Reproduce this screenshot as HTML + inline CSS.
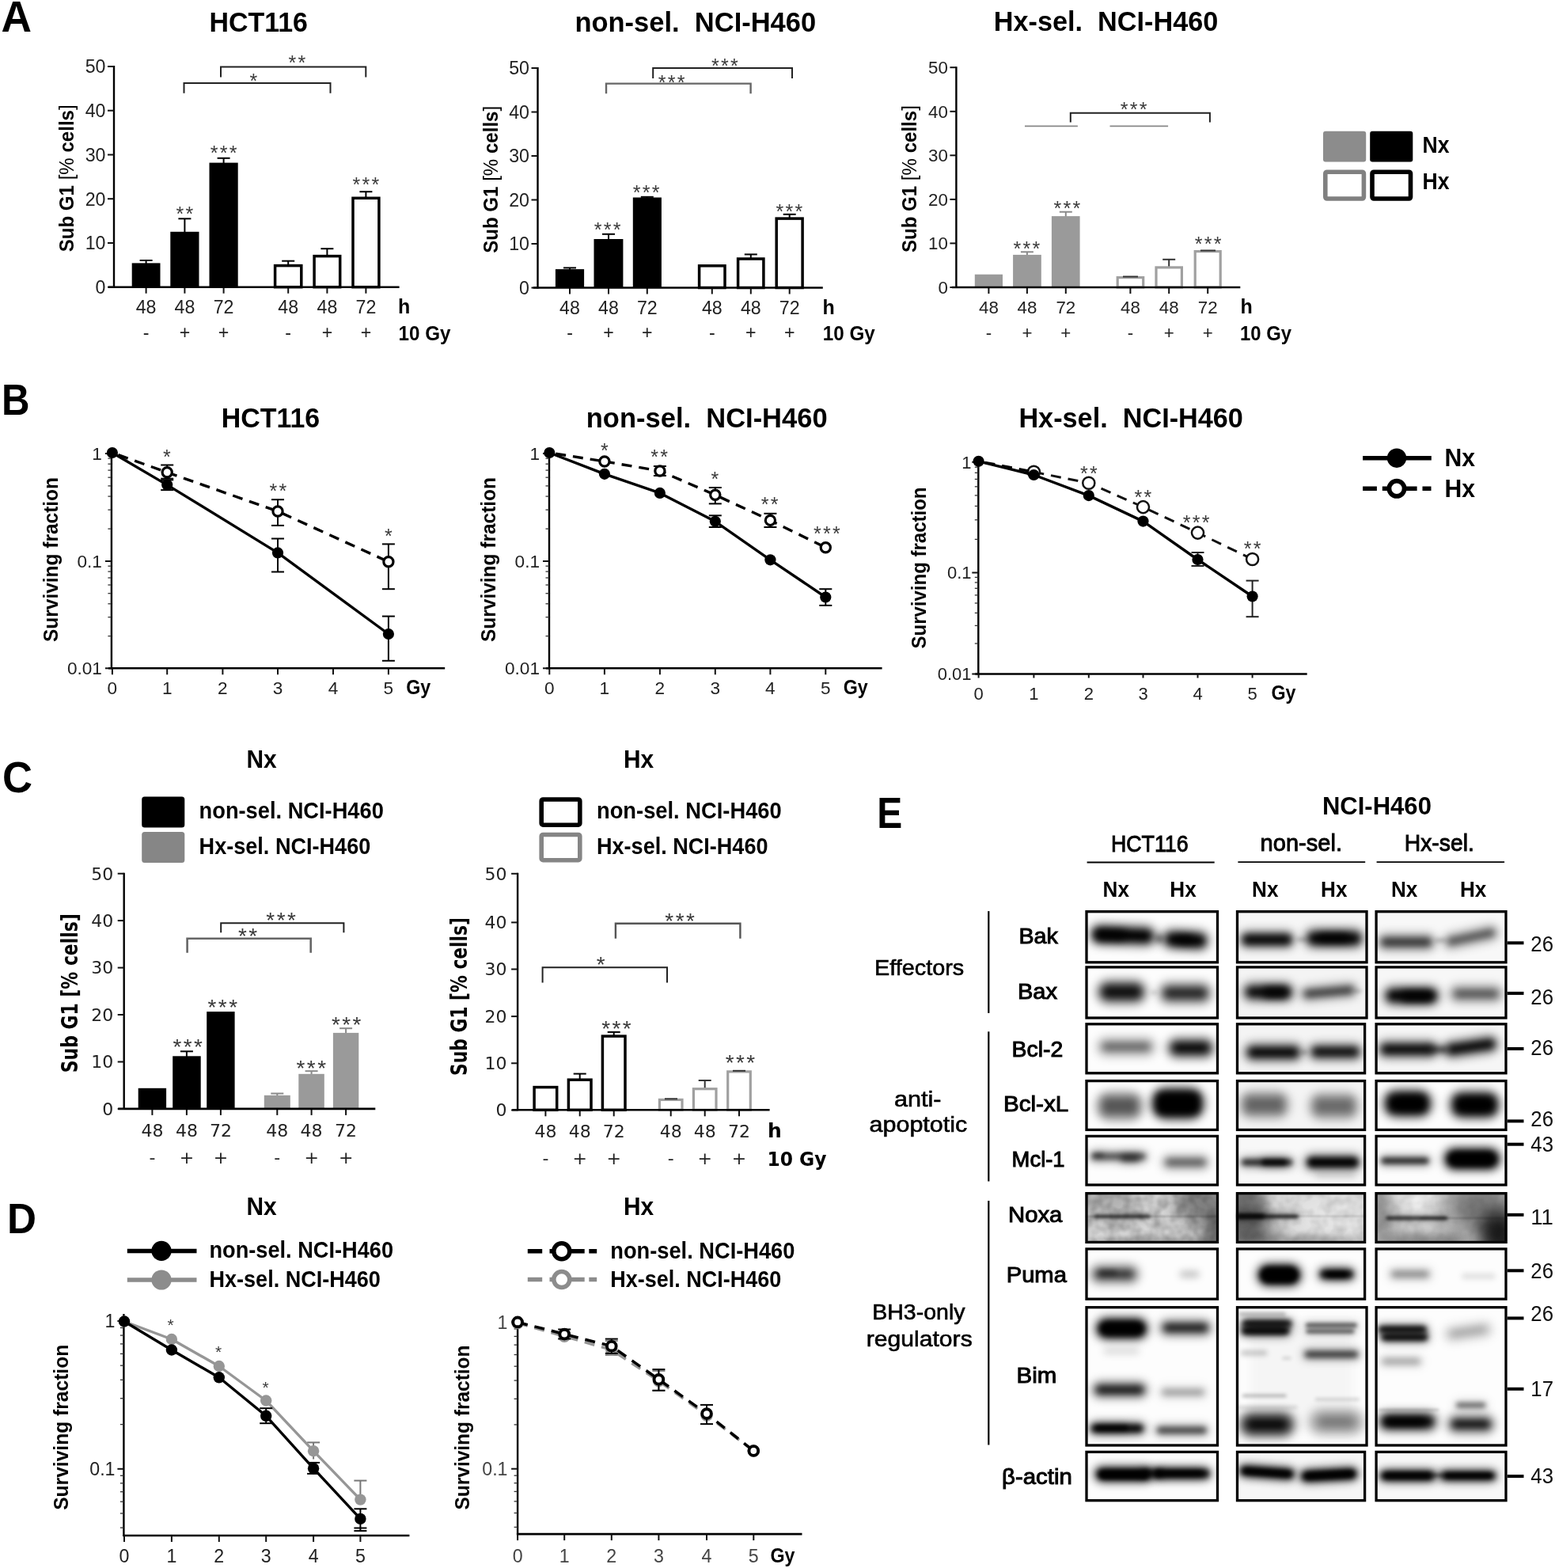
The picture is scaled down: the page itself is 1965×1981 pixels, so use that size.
<!DOCTYPE html>
<html lang="en">
<head>
<meta charset="utf-8">
<title>Figure</title>
<style>
html,body{margin:0;padding:0;background:#fff;}
body{width:1965px;height:1981px;overflow:hidden;}
svg{display:block;}
svg text{font-family:"Liberation Sans", Arial, Helvetica, sans-serif;white-space:pre;}
svg text.dj{font-family:"DejaVu Sans", "Liberation Sans", sans-serif;}
</style>
</head>
<body>
<svg width="1965" height="1981" viewBox="0 0 1965 1981">
<defs>
<filter id="f10" x="-150%" y="-400%" width="400%" height="900%"><feGaussianBlur stdDeviation="1.0"/></filter>
<filter id="f15" x="-150%" y="-400%" width="400%" height="900%"><feGaussianBlur stdDeviation="1.5"/></filter>
<filter id="f20" x="-150%" y="-400%" width="400%" height="900%"><feGaussianBlur stdDeviation="2.0"/></filter>
<filter id="f25" x="-150%" y="-400%" width="400%" height="900%"><feGaussianBlur stdDeviation="2.5"/></filter>
<filter id="f30" x="-150%" y="-400%" width="400%" height="900%"><feGaussianBlur stdDeviation="3.0"/></filter>
<filter id="f35" x="-150%" y="-400%" width="400%" height="900%"><feGaussianBlur stdDeviation="3.5"/></filter>
<filter id="f40" x="-150%" y="-400%" width="400%" height="900%"><feGaussianBlur stdDeviation="4.0"/></filter>
<filter id="f45" x="-150%" y="-400%" width="400%" height="900%"><feGaussianBlur stdDeviation="4.5"/></filter>
<filter id="f50" x="-150%" y="-400%" width="400%" height="900%"><feGaussianBlur stdDeviation="5.0"/></filter>
<filter id="f55" x="-150%" y="-400%" width="400%" height="900%"><feGaussianBlur stdDeviation="5.5"/></filter>
<filter id="f60" x="-150%" y="-400%" width="400%" height="900%"><feGaussianBlur stdDeviation="6.0"/></filter>
<filter id="f65" x="-150%" y="-400%" width="400%" height="900%"><feGaussianBlur stdDeviation="6.5"/></filter>
<filter id="f70" x="-150%" y="-400%" width="400%" height="900%"><feGaussianBlur stdDeviation="7.0"/></filter>
<filter id="f80" x="-150%" y="-400%" width="400%" height="900%"><feGaussianBlur stdDeviation="8.0"/></filter>
<filter id="f100" x="-150%" y="-400%" width="400%" height="900%"><feGaussianBlur stdDeviation="10.0"/></filter>
<filter id="f120" x="-150%" y="-400%" width="400%" height="900%"><feGaussianBlur stdDeviation="12.0"/></filter>
<filter id="nz3" x="0" y="0" width="100%" height="100%">
  <feTurbulence type="fractalNoise" baseFrequency="0.07" numOctaves="2" seed="3" result="t"/>
  <feColorMatrix in="t" type="matrix" values="0 0 0 0 0  0 0 0 0 0  0 0 0 0 0  1.8 0 0 0 -0.6"/>
</filter>
<filter id="nz5" x="0" y="0" width="100%" height="100%">
  <feTurbulence type="fractalNoise" baseFrequency="0.07" numOctaves="2" seed="5" result="t"/>
  <feColorMatrix in="t" type="matrix" values="0 0 0 0 0  0 0 0 0 0  0 0 0 0 0  1.8 0 0 0 -0.6"/>
</filter>
<filter id="nz9" x="0" y="0" width="100%" height="100%">
  <feTurbulence type="fractalNoise" baseFrequency="0.07" numOctaves="2" seed="9" result="t"/>
  <feColorMatrix in="t" type="matrix" values="0 0 0 0 0  0 0 0 0 0  0 0 0 0 0  1.8 0 0 0 -0.6"/>
</filter>
</defs>
<rect width="1965" height="1981" fill="#fff"/>
<text x="1.5" y="40.3" font-size="56" font-weight="bold" textLength="38.5" lengthAdjust="spacingAndGlyphs">A</text>
<text x="264.5" y="39.6" font-size="35" font-weight="bold" textLength="124.5" lengthAdjust="spacingAndGlyphs">HCT116</text>
<text x="726.4" y="39.6" font-size="35" font-weight="bold" textLength="304.8" lengthAdjust="spacingAndGlyphs">non-sel.  NCI-H460</text>
<text x="1255.8" y="39.4" font-size="35" font-weight="bold" textLength="283.5" lengthAdjust="spacingAndGlyphs">Hx-sel.  NCI-H460</text>
<line x1="184.6" y1="329.0" x2="184.6" y2="334.4" stroke="#000" stroke-width="2"/>
<line x1="176.6" y1="329.0" x2="192.6" y2="329.0" stroke="#000" stroke-width="2"/>
<rect x="166.7" y="332.4" width="35.8" height="30.3" fill="#000"/>
<line x1="184.6" y1="362.7" x2="184.6" y2="370.7" stroke="#111" stroke-width="2"/>
<text x="184.6" y="395.5" font-size="23.2" text-anchor="middle" fill="#222">48</text>
<text x="184.6" y="427.5" font-size="23.2" text-anchor="middle" fill="#222">-</text>
<line x1="233.4" y1="276.3" x2="233.4" y2="294.8" stroke="#000" stroke-width="2"/>
<line x1="225.4" y1="276.3" x2="241.4" y2="276.3" stroke="#000" stroke-width="2"/>
<rect x="215.3" y="292.8" width="36.2" height="69.9" fill="#000"/>
<line x1="233.4" y1="362.7" x2="233.4" y2="370.7" stroke="#111" stroke-width="2"/>
<text x="233.4" y="395.5" font-size="23.2" text-anchor="middle" fill="#222">48</text>
<text x="233.4" y="427.5" font-size="23.2" text-anchor="middle" fill="#222">+</text>
<line x1="282.6" y1="199.8" x2="282.6" y2="207.6" stroke="#000" stroke-width="2"/>
<line x1="274.6" y1="199.8" x2="290.6" y2="199.8" stroke="#000" stroke-width="2"/>
<rect x="264.5" y="205.6" width="36.2" height="157.1" fill="#000"/>
<line x1="282.6" y1="362.7" x2="282.6" y2="370.7" stroke="#111" stroke-width="2"/>
<text x="282.6" y="395.5" font-size="23.2" text-anchor="middle" fill="#222">72</text>
<text x="282.6" y="427.5" font-size="23.2" text-anchor="middle" fill="#222">+</text>
<line x1="364.2" y1="329.7" x2="364.2" y2="336.0" stroke="#000" stroke-width="2"/>
<line x1="356.2" y1="329.7" x2="372.2" y2="329.7" stroke="#000" stroke-width="2"/>
<rect x="347.6" y="335.6" width="33.2" height="27.1" fill="#fff" stroke="#000" stroke-width="3.5"/>
<line x1="364.2" y1="362.7" x2="364.2" y2="370.7" stroke="#111" stroke-width="2"/>
<text x="364.2" y="395.5" font-size="23.2" text-anchor="middle" fill="#222">48</text>
<text x="364.2" y="427.5" font-size="23.2" text-anchor="middle" fill="#222">-</text>
<line x1="413.4" y1="314.2" x2="413.4" y2="324.0" stroke="#000" stroke-width="2"/>
<line x1="405.4" y1="314.2" x2="421.4" y2="314.2" stroke="#000" stroke-width="2"/>
<rect x="397.1" y="323.6" width="32.6" height="39.1" fill="#fff" stroke="#000" stroke-width="3.5"/>
<line x1="413.4" y1="362.7" x2="413.4" y2="370.7" stroke="#111" stroke-width="2"/>
<text x="413.4" y="395.5" font-size="23.2" text-anchor="middle" fill="#222">48</text>
<text x="413.4" y="427.5" font-size="23.2" text-anchor="middle" fill="#222">+</text>
<line x1="462.4" y1="242.2" x2="462.4" y2="250.7" stroke="#000" stroke-width="2"/>
<line x1="454.4" y1="242.2" x2="470.4" y2="242.2" stroke="#000" stroke-width="2"/>
<rect x="446.0" y="250.3" width="32.9" height="112.4" fill="#fff" stroke="#000" stroke-width="3.5"/>
<line x1="462.4" y1="362.7" x2="462.4" y2="370.7" stroke="#111" stroke-width="2"/>
<text x="462.4" y="395.5" font-size="23.2" text-anchor="middle" fill="#222">72</text>
<text x="462.4" y="427.5" font-size="23.2" text-anchor="middle" fill="#222">+</text>
<line x1="144.0" y1="83.0" x2="144.0" y2="363.7" stroke="#000" stroke-width="2.4"/>
<line x1="137.0" y1="362.7" x2="504.6" y2="362.7" stroke="#000" stroke-width="2.6"/>
<line x1="136.0" y1="362.7" x2="144.0" y2="362.7" stroke="#111" stroke-width="2"/>
<text x="133.5" y="370.9" font-size="23.2" text-anchor="end" fill="#222">0</text>
<line x1="136.0" y1="307.0" x2="144.0" y2="307.0" stroke="#111" stroke-width="2"/>
<text x="133.5" y="315.2" font-size="23.2" text-anchor="end" fill="#222">10</text>
<line x1="136.0" y1="251.2" x2="144.0" y2="251.2" stroke="#111" stroke-width="2"/>
<text x="133.5" y="259.5" font-size="23.2" text-anchor="end" fill="#222">20</text>
<line x1="136.0" y1="195.5" x2="144.0" y2="195.5" stroke="#111" stroke-width="2"/>
<text x="133.5" y="203.7" font-size="23.2" text-anchor="end" fill="#222">30</text>
<line x1="136.0" y1="139.7" x2="144.0" y2="139.7" stroke="#111" stroke-width="2"/>
<text x="133.5" y="148.0" font-size="23.2" text-anchor="end" fill="#222">40</text>
<line x1="136.0" y1="84.0" x2="144.0" y2="84.0" stroke="#111" stroke-width="2"/>
<text x="133.5" y="92.2" font-size="23.2" text-anchor="end" fill="#222">50</text>
<text x="93.0" y="225.3" font-size="25" font-weight="bold" text-anchor="middle" textLength="186" lengthAdjust="spacingAndGlyphs" transform="rotate(-90 93.0 225.3)">Sub G1 <tspan font-weight="normal">[%</tspan> cells<tspan font-weight="normal">]</tspan></text>
<text x="503.0" y="395.5" font-size="25" font-weight="bold">h</text>
<text x="503.6" y="429.5" font-size="25" font-weight="bold" textLength="66.0" lengthAdjust="spacingAndGlyphs">10 Gy</text>
<path d="M279.0 97.5V84.4H462.3V97.5" stroke="#222" stroke-width="2" fill="none"/>
<text x="376.6" y="88.4" font-size="25" text-anchor="middle" fill="#3a3a3a" letter-spacing="2.28">**</text>
<path d="M232.5 117.8V105.0H417.5V117.8" stroke="#222" stroke-width="2" fill="none"/>
<text x="321.5" y="110.9" font-size="25" text-anchor="middle" fill="#3a3a3a" letter-spacing="2.28">*</text>
<text x="234.5" y="278.9" font-size="25" text-anchor="middle" fill="#3a3a3a" letter-spacing="2.28">**</text>
<text x="283.7" y="202.1" font-size="25" text-anchor="middle" fill="#3a3a3a" letter-spacing="2.28">***</text>
<text x="463.6" y="241.8" font-size="25" text-anchor="middle" fill="#3a3a3a" letter-spacing="2.28">***</text>
<line x1="720.0" y1="338.4" x2="720.0" y2="342.1" stroke="#000" stroke-width="2"/>
<line x1="712.0" y1="338.4" x2="728.0" y2="338.4" stroke="#000" stroke-width="2"/>
<rect x="701.9" y="340.1" width="36.2" height="23.4" fill="#000"/>
<line x1="720.0" y1="363.5" x2="720.0" y2="371.5" stroke="#111" stroke-width="2"/>
<text x="720.0" y="396.5" font-size="23.2" text-anchor="middle" fill="#222">48</text>
<text x="720.0" y="427.5" font-size="23.2" text-anchor="middle" fill="#222">-</text>
<line x1="769.0" y1="295.8" x2="769.0" y2="304.0" stroke="#000" stroke-width="2"/>
<line x1="761.0" y1="295.8" x2="777.0" y2="295.8" stroke="#000" stroke-width="2"/>
<rect x="750.5" y="302.0" width="36.9" height="61.5" fill="#000"/>
<line x1="769.0" y1="363.5" x2="769.0" y2="371.5" stroke="#111" stroke-width="2"/>
<text x="769.0" y="396.5" font-size="23.2" text-anchor="middle" fill="#222">48</text>
<text x="769.0" y="427.5" font-size="23.2" text-anchor="middle" fill="#222">+</text>
<line x1="817.8" y1="248.8" x2="817.8" y2="251.5" stroke="#000" stroke-width="2"/>
<line x1="809.8" y1="248.8" x2="825.8" y2="248.8" stroke="#000" stroke-width="2"/>
<rect x="799.8" y="249.5" width="36.1" height="114.0" fill="#000"/>
<line x1="817.8" y1="363.5" x2="817.8" y2="371.5" stroke="#111" stroke-width="2"/>
<text x="817.8" y="396.5" font-size="23.2" text-anchor="middle" fill="#222">72</text>
<text x="817.8" y="427.5" font-size="23.2" text-anchor="middle" fill="#222">+</text>
<rect x="883.6" y="335.8" width="32.4" height="27.7" fill="#fff" stroke="#000" stroke-width="3.5"/>
<line x1="899.8" y1="363.5" x2="899.8" y2="371.5" stroke="#111" stroke-width="2"/>
<text x="899.8" y="396.5" font-size="23.2" text-anchor="middle" fill="#222">48</text>
<text x="899.8" y="427.5" font-size="23.2" text-anchor="middle" fill="#222">-</text>
<line x1="948.8" y1="321.4" x2="948.8" y2="327.4" stroke="#000" stroke-width="2"/>
<line x1="940.8" y1="321.4" x2="956.8" y2="321.4" stroke="#000" stroke-width="2"/>
<rect x="932.6" y="327.0" width="32.3" height="36.5" fill="#fff" stroke="#000" stroke-width="3.5"/>
<line x1="948.8" y1="363.5" x2="948.8" y2="371.5" stroke="#111" stroke-width="2"/>
<text x="948.8" y="396.5" font-size="23.2" text-anchor="middle" fill="#222">48</text>
<text x="948.8" y="427.5" font-size="23.2" text-anchor="middle" fill="#222">+</text>
<line x1="997.7" y1="270.8" x2="997.7" y2="276.5" stroke="#000" stroke-width="2"/>
<line x1="989.7" y1="270.8" x2="1005.7" y2="270.8" stroke="#000" stroke-width="2"/>
<rect x="981.2" y="276.1" width="32.9" height="87.4" fill="#fff" stroke="#000" stroke-width="3.5"/>
<line x1="997.7" y1="363.5" x2="997.7" y2="371.5" stroke="#111" stroke-width="2"/>
<text x="997.7" y="396.5" font-size="23.2" text-anchor="middle" fill="#222">72</text>
<text x="997.7" y="427.5" font-size="23.2" text-anchor="middle" fill="#222">+</text>
<line x1="679.5" y1="85.0" x2="679.5" y2="364.5" stroke="#000" stroke-width="2.4"/>
<line x1="673.7" y1="363.5" x2="1039.8" y2="363.5" stroke="#000" stroke-width="2.6"/>
<line x1="671.5" y1="363.5" x2="679.5" y2="363.5" stroke="#111" stroke-width="2"/>
<text x="669.0" y="371.7" font-size="23.2" text-anchor="end" fill="#222">0</text>
<line x1="671.5" y1="308.0" x2="679.5" y2="308.0" stroke="#111" stroke-width="2"/>
<text x="669.0" y="316.2" font-size="23.2" text-anchor="end" fill="#222">10</text>
<line x1="671.5" y1="252.5" x2="679.5" y2="252.5" stroke="#111" stroke-width="2"/>
<text x="669.0" y="260.7" font-size="23.2" text-anchor="end" fill="#222">20</text>
<line x1="671.5" y1="197.0" x2="679.5" y2="197.0" stroke="#111" stroke-width="2"/>
<text x="669.0" y="205.2" font-size="23.2" text-anchor="end" fill="#222">30</text>
<line x1="671.5" y1="141.5" x2="679.5" y2="141.5" stroke="#111" stroke-width="2"/>
<text x="669.0" y="149.7" font-size="23.2" text-anchor="end" fill="#222">40</text>
<line x1="671.5" y1="86.0" x2="679.5" y2="86.0" stroke="#111" stroke-width="2"/>
<text x="669.0" y="94.2" font-size="23.2" text-anchor="end" fill="#222">50</text>
<text x="629.0" y="226.8" font-size="25" font-weight="bold" text-anchor="middle" textLength="186" lengthAdjust="spacingAndGlyphs" transform="rotate(-90 629.0 226.8)">Sub G1 <tspan font-weight="normal">[%</tspan> cells<tspan font-weight="normal">]</tspan></text>
<text x="1039.5" y="396.5" font-size="25" font-weight="bold">h</text>
<text x="1039.8" y="429.5" font-size="25" font-weight="bold" textLength="66.0" lengthAdjust="spacingAndGlyphs">10 Gy</text>
<path d="M825.2 99.0V86.0H1001.0V99.0" stroke="#222" stroke-width="2" fill="none"/>
<text x="916.9" y="91.9" font-size="25" text-anchor="middle" fill="#3a3a3a" letter-spacing="2.28">***</text>
<path d="M766.0 118.2V105.6H948.6V118.2" stroke="#666" stroke-width="2.4" fill="none"/>
<text x="849.8" y="113.0" font-size="25" text-anchor="middle" fill="#3a3a3a" letter-spacing="2.28">***</text>
<text x="768.8" y="299.0" font-size="25" text-anchor="middle" fill="#3a3a3a" letter-spacing="2.28">***</text>
<text x="817.7" y="252.0" font-size="25" text-anchor="middle" fill="#3a3a3a" letter-spacing="2.28">***</text>
<text x="998.6" y="275.8" font-size="25" text-anchor="middle" fill="#3a3a3a" letter-spacing="2.28">***</text>
<rect x="1231.8" y="346.7" width="35.2" height="16.3" fill="#9a9a9a"/>
<line x1="1249.4" y1="363.0" x2="1249.4" y2="371.0" stroke="#111" stroke-width="2"/>
<text x="1249.4" y="396.0" font-size="22.3" text-anchor="middle" fill="#222">48</text>
<text x="1249.4" y="427.5" font-size="22.3" text-anchor="middle" fill="#222">-</text>
<line x1="1297.9" y1="318.3" x2="1297.9" y2="323.9" stroke="#8a8a8a" stroke-width="2"/>
<line x1="1289.9" y1="318.3" x2="1305.9" y2="318.3" stroke="#8a8a8a" stroke-width="2"/>
<rect x="1280.1" y="321.9" width="35.7" height="41.1" fill="#9a9a9a"/>
<line x1="1297.9" y1="363.0" x2="1297.9" y2="371.0" stroke="#111" stroke-width="2"/>
<text x="1297.9" y="396.0" font-size="22.3" text-anchor="middle" fill="#222">48</text>
<text x="1297.9" y="427.5" font-size="22.3" text-anchor="middle" fill="#222">+</text>
<line x1="1346.8" y1="267.7" x2="1346.8" y2="275.1" stroke="#8a8a8a" stroke-width="2"/>
<line x1="1338.8" y1="267.7" x2="1354.8" y2="267.7" stroke="#8a8a8a" stroke-width="2"/>
<rect x="1328.9" y="273.1" width="35.7" height="89.9" fill="#9a9a9a"/>
<line x1="1346.8" y1="363.0" x2="1346.8" y2="371.0" stroke="#111" stroke-width="2"/>
<text x="1346.8" y="396.0" font-size="22.3" text-anchor="middle" fill="#222">72</text>
<text x="1346.8" y="427.5" font-size="22.3" text-anchor="middle" fill="#222">+</text>
<rect x="1412.2" y="350.6" width="32.5" height="12.4" fill="#fff" stroke="#a0a0a0" stroke-width="3.2"/>
<line x1="1428.4" y1="363.0" x2="1428.4" y2="371.0" stroke="#111" stroke-width="2"/>
<text x="1428.4" y="396.0" font-size="22.3" text-anchor="middle" fill="#222">48</text>
<text x="1428.4" y="427.5" font-size="22.3" text-anchor="middle" fill="#222">-</text>
<line x1="1477.2" y1="327.8" x2="1477.2" y2="338.3" stroke="#333" stroke-width="2"/>
<line x1="1469.2" y1="327.8" x2="1485.2" y2="327.8" stroke="#333" stroke-width="2"/>
<rect x="1461.0" y="337.9" width="32.4" height="25.1" fill="#fff" stroke="#a0a0a0" stroke-width="3.2"/>
<line x1="1477.2" y1="363.0" x2="1477.2" y2="371.0" stroke="#111" stroke-width="2"/>
<text x="1477.2" y="396.0" font-size="22.3" text-anchor="middle" fill="#222">48</text>
<text x="1477.2" y="427.5" font-size="22.3" text-anchor="middle" fill="#222">+</text>
<rect x="1510.2" y="317.6" width="32.0" height="45.4" fill="#fff" stroke="#a0a0a0" stroke-width="3.2"/>
<line x1="1526.2" y1="363.0" x2="1526.2" y2="371.0" stroke="#111" stroke-width="2"/>
<text x="1526.2" y="396.0" font-size="22.3" text-anchor="middle" fill="#222">72</text>
<text x="1526.2" y="427.5" font-size="22.3" text-anchor="middle" fill="#222">+</text>
<line x1="1208.4" y1="84.2" x2="1208.4" y2="364.0" stroke="#000" stroke-width="2.4"/>
<line x1="1203.0" y1="363.0" x2="1567.3" y2="363.0" stroke="#000" stroke-width="2.6"/>
<line x1="1200.4" y1="363.0" x2="1208.4" y2="363.0" stroke="#111" stroke-width="2"/>
<text x="1197.9" y="370.9" font-size="22.3" text-anchor="end" fill="#222">0</text>
<line x1="1200.4" y1="307.4" x2="1208.4" y2="307.4" stroke="#111" stroke-width="2"/>
<text x="1197.9" y="315.4" font-size="22.3" text-anchor="end" fill="#222">10</text>
<line x1="1200.4" y1="251.9" x2="1208.4" y2="251.9" stroke="#111" stroke-width="2"/>
<text x="1197.9" y="259.8" font-size="22.3" text-anchor="end" fill="#222">20</text>
<line x1="1200.4" y1="196.3" x2="1208.4" y2="196.3" stroke="#111" stroke-width="2"/>
<text x="1197.9" y="204.2" font-size="22.3" text-anchor="end" fill="#222">30</text>
<line x1="1200.4" y1="140.8" x2="1208.4" y2="140.8" stroke="#111" stroke-width="2"/>
<text x="1197.9" y="148.7" font-size="22.3" text-anchor="end" fill="#222">40</text>
<line x1="1200.4" y1="85.2" x2="1208.4" y2="85.2" stroke="#111" stroke-width="2"/>
<text x="1197.9" y="93.1" font-size="22.3" text-anchor="end" fill="#222">50</text>
<text x="1158.0" y="226.1" font-size="25" font-weight="bold" text-anchor="middle" textLength="186" lengthAdjust="spacingAndGlyphs" transform="rotate(-90 1158.0 226.1)">Sub G1 <tspan font-weight="normal">[%</tspan> cells<tspan font-weight="normal">]</tspan></text>
<text x="1567.5" y="396.0" font-size="25" font-weight="bold">h</text>
<text x="1567.0" y="429.5" font-size="25" font-weight="bold" textLength="65.0" lengthAdjust="spacingAndGlyphs">10 Gy</text>
<path d="M1352.8 154.4V142.7H1528.9V154.4" stroke="#222" stroke-width="2" fill="none"/>
<text x="1433.8" y="146.7" font-size="25" text-anchor="middle" fill="#3a3a3a" letter-spacing="2.28">***</text>
<line x1="1295.0" y1="159.4" x2="1361.9" y2="159.4" stroke="#888" stroke-width="1.6"/>
<line x1="1402.5" y1="159.4" x2="1476.1" y2="159.4" stroke="#888" stroke-width="1.6"/>
<text x="1298.4" y="322.8" font-size="25" text-anchor="middle" fill="#3a3a3a" letter-spacing="2.28">***</text>
<text x="1349.4" y="271.7" font-size="25" text-anchor="middle" fill="#3a3a3a" letter-spacing="2.28">***</text>
<text x="1527.7" y="316.9" font-size="25" text-anchor="middle" fill="#3a3a3a" letter-spacing="2.28">***</text>
<line x1="1419.0" y1="349.5" x2="1438.0" y2="349.5" stroke="#333" stroke-width="2"/>
<line x1="1517.0" y1="316.5" x2="1536.0" y2="316.5" stroke="#333" stroke-width="2"/>
<rect x="1672.0" y="165.7" width="54.2" height="38.8" fill="#8c8c8c" rx="3"/>
<rect x="1731.2" y="165.7" width="54.1" height="38.8" fill="#000" rx="3"/>
<text x="1797.5" y="193.2" font-size="30" font-weight="bold" textLength="34.0" lengthAdjust="spacingAndGlyphs">Nx</text>
<rect x="1674.8" y="217.2" width="48.6" height="33.8" fill="#fff" stroke="#808080" stroke-width="5.6" rx="2"/>
<rect x="1734.0" y="217.2" width="48.5" height="33.8" fill="#fff" stroke="#000" stroke-width="5.6" rx="2"/>
<text x="1797.5" y="239.3" font-size="30" font-weight="bold" textLength="34.0" lengthAdjust="spacingAndGlyphs">Hx</text>
<text x="2.0" y="523.7" font-size="56" font-weight="bold" textLength="35.5" lengthAdjust="spacingAndGlyphs">B</text>
<text x="279.7" y="539.5" font-size="35" font-weight="bold" textLength="124.5" lengthAdjust="spacingAndGlyphs">HCT116</text>
<text x="740.8" y="539.5" font-size="35" font-weight="bold" textLength="304.8" lengthAdjust="spacingAndGlyphs">non-sel.  NCI-H460</text>
<text x="1287.4" y="540.0" font-size="35" font-weight="bold" textLength="283.5" lengthAdjust="spacingAndGlyphs">Hx-sel.  NCI-H460</text>
<line x1="140.9" y1="571.0" x2="140.9" y2="845.3" stroke="#000" stroke-width="2.4"/>
<line x1="136.9" y1="844.3" x2="562.2" y2="844.3" stroke="#000" stroke-width="2.6"/>
<line x1="136.4" y1="579.2" x2="140.9" y2="579.2" stroke="#333" stroke-width="1.3"/>
<line x1="136.4" y1="586.2" x2="140.9" y2="586.2" stroke="#333" stroke-width="1.3"/>
<line x1="136.4" y1="594.1" x2="140.9" y2="594.1" stroke="#333" stroke-width="1.3"/>
<line x1="136.4" y1="603.2" x2="140.9" y2="603.2" stroke="#333" stroke-width="1.3"/>
<line x1="136.4" y1="613.9" x2="140.9" y2="613.9" stroke="#333" stroke-width="1.3"/>
<line x1="136.4" y1="627.1" x2="140.9" y2="627.1" stroke="#333" stroke-width="1.3"/>
<line x1="136.4" y1="644.1" x2="140.9" y2="644.1" stroke="#333" stroke-width="1.3"/>
<line x1="136.4" y1="668.1" x2="140.9" y2="668.1" stroke="#333" stroke-width="1.3"/>
<line x1="136.4" y1="715.2" x2="140.9" y2="715.2" stroke="#333" stroke-width="1.3"/>
<line x1="136.4" y1="722.1" x2="140.9" y2="722.1" stroke="#333" stroke-width="1.3"/>
<line x1="136.4" y1="730.0" x2="140.9" y2="730.0" stroke="#333" stroke-width="1.3"/>
<line x1="136.4" y1="739.0" x2="140.9" y2="739.0" stroke="#333" stroke-width="1.3"/>
<line x1="136.4" y1="749.7" x2="140.9" y2="749.7" stroke="#333" stroke-width="1.3"/>
<line x1="136.4" y1="762.8" x2="140.9" y2="762.8" stroke="#333" stroke-width="1.3"/>
<line x1="136.4" y1="779.7" x2="140.9" y2="779.7" stroke="#333" stroke-width="1.3"/>
<line x1="136.4" y1="803.6" x2="140.9" y2="803.6" stroke="#333" stroke-width="1.3"/>
<line x1="132.9" y1="573.0" x2="140.9" y2="573.0" stroke="#111" stroke-width="2"/>
<text x="128.9" y="581.1" font-size="22.6" text-anchor="end" fill="#222">1</text>
<line x1="132.9" y1="709.0" x2="140.9" y2="709.0" stroke="#111" stroke-width="2"/>
<text x="128.9" y="717.1" font-size="22.6" text-anchor="end" fill="#222">0.1</text>
<line x1="132.9" y1="844.3" x2="140.9" y2="844.3" stroke="#111" stroke-width="2"/>
<text x="128.9" y="852.4" font-size="22.6" text-anchor="end" fill="#222">0.01</text>
<line x1="141.9" y1="844.3" x2="141.9" y2="852.3" stroke="#111" stroke-width="2"/>
<text x="141.9" y="877.0" font-size="22.6" text-anchor="middle" fill="#222">0</text>
<line x1="211.2" y1="844.3" x2="211.2" y2="852.3" stroke="#111" stroke-width="2"/>
<text x="211.2" y="877.0" font-size="22.6" text-anchor="middle" fill="#222">1</text>
<line x1="281.4" y1="844.3" x2="281.4" y2="852.3" stroke="#111" stroke-width="2"/>
<text x="281.4" y="877.0" font-size="22.6" text-anchor="middle" fill="#222">2</text>
<line x1="351.0" y1="844.3" x2="351.0" y2="852.3" stroke="#111" stroke-width="2"/>
<text x="351.0" y="877.0" font-size="22.6" text-anchor="middle" fill="#222">3</text>
<line x1="421.0" y1="844.3" x2="421.0" y2="852.3" stroke="#111" stroke-width="2"/>
<text x="421.0" y="877.0" font-size="22.6" text-anchor="middle" fill="#222">4</text>
<line x1="490.9" y1="844.3" x2="490.9" y2="852.3" stroke="#111" stroke-width="2"/>
<text x="490.9" y="877.0" font-size="22.6" text-anchor="middle" fill="#222">5</text>
<text x="513.3" y="877.0" font-size="25" font-weight="bold" textLength="31.0" lengthAdjust="spacingAndGlyphs">Gy</text>
<text x="72.5" y="707.0" font-size="25" font-weight="bold" text-anchor="middle" textLength="208" lengthAdjust="spacingAndGlyphs" transform="rotate(-90 72.5 707.0)">Surviving fraction</text>
<line x1="211.2" y1="587.5" x2="211.2" y2="604.7" stroke="#000" stroke-width="2"/>
<line x1="203.2" y1="587.5" x2="219.2" y2="587.5" stroke="#000" stroke-width="2"/>
<line x1="203.2" y1="604.7" x2="219.2" y2="604.7" stroke="#000" stroke-width="2"/>
<line x1="351.0" y1="631.2" x2="351.0" y2="663.9" stroke="#000" stroke-width="2"/>
<line x1="343.0" y1="631.2" x2="359.0" y2="631.2" stroke="#000" stroke-width="2"/>
<line x1="343.0" y1="663.9" x2="359.0" y2="663.9" stroke="#000" stroke-width="2"/>
<line x1="490.9" y1="687.4" x2="490.9" y2="744.2" stroke="#000" stroke-width="2"/>
<line x1="482.9" y1="687.4" x2="498.9" y2="687.4" stroke="#000" stroke-width="2"/>
<line x1="482.9" y1="744.2" x2="498.9" y2="744.2" stroke="#000" stroke-width="2"/>
<path d="M211.2 596.8L351.0 646.0L490.9 709.7" stroke="#000" stroke-width="3.4" fill="none" stroke-dasharray="13 9" stroke-linejoin="round"/>
<circle cx="211.2" cy="596.8" r="6.1" fill="#fff" stroke="#000" stroke-width="3.2"/>
<circle cx="351.0" cy="646.0" r="6.1" fill="#fff" stroke="#000" stroke-width="3.2"/>
<circle cx="490.9" cy="709.7" r="6.1" fill="#fff" stroke="#000" stroke-width="3.2"/>
<path d="M141.9 572L211.2 596.8" stroke="#000" stroke-width="3.4" fill="none" stroke-dasharray="13 9" stroke-dashoffset="-8"/>
<line x1="211.2" y1="606.4" x2="211.2" y2="619.1" stroke="#000" stroke-width="2"/>
<line x1="203.2" y1="606.4" x2="219.2" y2="606.4" stroke="#000" stroke-width="2"/>
<line x1="203.2" y1="619.1" x2="219.2" y2="619.1" stroke="#000" stroke-width="2"/>
<line x1="351.0" y1="680.5" x2="351.0" y2="722.5" stroke="#000" stroke-width="2"/>
<line x1="343.0" y1="680.5" x2="359.0" y2="680.5" stroke="#000" stroke-width="2"/>
<line x1="343.0" y1="722.5" x2="359.0" y2="722.5" stroke="#000" stroke-width="2"/>
<line x1="490.9" y1="778.6" x2="490.9" y2="834.8" stroke="#000" stroke-width="2"/>
<line x1="482.9" y1="778.6" x2="498.9" y2="778.6" stroke="#000" stroke-width="2"/>
<line x1="482.9" y1="834.8" x2="498.9" y2="834.8" stroke="#000" stroke-width="2"/>
<path d="M141.9 572.0L211.2 612.6L351.0 698.4L490.9 801.0" stroke="#000" stroke-width="3.4" fill="none" stroke-linejoin="round"/>
<circle cx="141.9" cy="572.0" r="7.1" fill="#000"/>
<circle cx="211.2" cy="612.6" r="7.1" fill="#000"/>
<circle cx="351.0" cy="698.4" r="7.1" fill="#000"/>
<circle cx="490.9" cy="801.0" r="7.1" fill="#000"/>
<text x="211.9" y="586.4" font-size="25" text-anchor="middle" fill="#3a3a3a" letter-spacing="2.28">*</text>
<text x="352.5" y="629.4" font-size="25" text-anchor="middle" fill="#3a3a3a" letter-spacing="2.28">**</text>
<text x="492.0" y="685.6" font-size="25" text-anchor="middle" fill="#3a3a3a" letter-spacing="2.28">*</text>
<line x1="694.0" y1="571.0" x2="694.0" y2="845.3" stroke="#000" stroke-width="2.4"/>
<line x1="690.0" y1="844.3" x2="1114.6" y2="844.3" stroke="#000" stroke-width="2.6"/>
<line x1="689.5" y1="579.2" x2="694.0" y2="579.2" stroke="#333" stroke-width="1.3"/>
<line x1="689.5" y1="586.2" x2="694.0" y2="586.2" stroke="#333" stroke-width="1.3"/>
<line x1="689.5" y1="594.1" x2="694.0" y2="594.1" stroke="#333" stroke-width="1.3"/>
<line x1="689.5" y1="603.2" x2="694.0" y2="603.2" stroke="#333" stroke-width="1.3"/>
<line x1="689.5" y1="613.9" x2="694.0" y2="613.9" stroke="#333" stroke-width="1.3"/>
<line x1="689.5" y1="627.1" x2="694.0" y2="627.1" stroke="#333" stroke-width="1.3"/>
<line x1="689.5" y1="644.1" x2="694.0" y2="644.1" stroke="#333" stroke-width="1.3"/>
<line x1="689.5" y1="668.1" x2="694.0" y2="668.1" stroke="#333" stroke-width="1.3"/>
<line x1="689.5" y1="715.2" x2="694.0" y2="715.2" stroke="#333" stroke-width="1.3"/>
<line x1="689.5" y1="722.1" x2="694.0" y2="722.1" stroke="#333" stroke-width="1.3"/>
<line x1="689.5" y1="730.0" x2="694.0" y2="730.0" stroke="#333" stroke-width="1.3"/>
<line x1="689.5" y1="739.0" x2="694.0" y2="739.0" stroke="#333" stroke-width="1.3"/>
<line x1="689.5" y1="749.7" x2="694.0" y2="749.7" stroke="#333" stroke-width="1.3"/>
<line x1="689.5" y1="762.8" x2="694.0" y2="762.8" stroke="#333" stroke-width="1.3"/>
<line x1="689.5" y1="779.7" x2="694.0" y2="779.7" stroke="#333" stroke-width="1.3"/>
<line x1="689.5" y1="803.6" x2="694.0" y2="803.6" stroke="#333" stroke-width="1.3"/>
<line x1="686.0" y1="573.0" x2="694.0" y2="573.0" stroke="#111" stroke-width="2"/>
<text x="682.0" y="581.1" font-size="22.6" text-anchor="end" fill="#222">1</text>
<line x1="686.0" y1="709.0" x2="694.0" y2="709.0" stroke="#111" stroke-width="2"/>
<text x="682.0" y="717.1" font-size="22.6" text-anchor="end" fill="#222">0.1</text>
<line x1="686.0" y1="844.3" x2="694.0" y2="844.3" stroke="#111" stroke-width="2"/>
<text x="682.0" y="852.4" font-size="22.6" text-anchor="end" fill="#222">0.01</text>
<line x1="694.3" y1="844.3" x2="694.3" y2="852.3" stroke="#111" stroke-width="2"/>
<text x="694.3" y="877.0" font-size="22.6" text-anchor="middle" fill="#222">0</text>
<line x1="763.9" y1="844.3" x2="763.9" y2="852.3" stroke="#111" stroke-width="2"/>
<text x="763.9" y="877.0" font-size="22.6" text-anchor="middle" fill="#222">1</text>
<line x1="833.9" y1="844.3" x2="833.9" y2="852.3" stroke="#111" stroke-width="2"/>
<text x="833.9" y="877.0" font-size="22.6" text-anchor="middle" fill="#222">2</text>
<line x1="903.8" y1="844.3" x2="903.8" y2="852.3" stroke="#111" stroke-width="2"/>
<text x="903.8" y="877.0" font-size="22.6" text-anchor="middle" fill="#222">3</text>
<line x1="973.4" y1="844.3" x2="973.4" y2="852.3" stroke="#111" stroke-width="2"/>
<text x="973.4" y="877.0" font-size="22.6" text-anchor="middle" fill="#222">4</text>
<line x1="1043.3" y1="844.3" x2="1043.3" y2="852.3" stroke="#111" stroke-width="2"/>
<text x="1043.3" y="877.0" font-size="22.6" text-anchor="middle" fill="#222">5</text>
<text x="1065.7" y="877.0" font-size="25" font-weight="bold" textLength="31.0" lengthAdjust="spacingAndGlyphs">Gy</text>
<text x="625.5" y="707.0" font-size="25" font-weight="bold" text-anchor="middle" textLength="208" lengthAdjust="spacingAndGlyphs" transform="rotate(-90 625.5 707.0)">Surviving fraction</text>
<line x1="833.9" y1="589.0" x2="833.9" y2="601.0" stroke="#000" stroke-width="2"/>
<line x1="825.9" y1="589.0" x2="841.9" y2="589.0" stroke="#000" stroke-width="2"/>
<line x1="825.9" y1="601.0" x2="841.9" y2="601.0" stroke="#000" stroke-width="2"/>
<line x1="903.8" y1="616.0" x2="903.8" y2="636.4" stroke="#000" stroke-width="2"/>
<line x1="895.8" y1="616.0" x2="911.8" y2="616.0" stroke="#000" stroke-width="2"/>
<line x1="895.8" y1="636.4" x2="911.8" y2="636.4" stroke="#000" stroke-width="2"/>
<line x1="973.4" y1="648.8" x2="973.4" y2="666.0" stroke="#000" stroke-width="2"/>
<line x1="965.4" y1="648.8" x2="981.4" y2="648.8" stroke="#000" stroke-width="2"/>
<line x1="965.4" y1="666.0" x2="981.4" y2="666.0" stroke="#000" stroke-width="2"/>
<path d="M763.9 583.0L833.9 595.0L903.8 625.3L973.4 657.4L1043.3 691.8" stroke="#000" stroke-width="3.4" fill="none" stroke-dasharray="13 9" stroke-linejoin="round"/>
<circle cx="763.9" cy="583.0" r="6.1" fill="#fff" stroke="#000" stroke-width="3.2"/>
<circle cx="833.9" cy="595.0" r="6.1" fill="#fff" stroke="#000" stroke-width="3.2"/>
<circle cx="903.8" cy="625.3" r="6.1" fill="#fff" stroke="#000" stroke-width="3.2"/>
<circle cx="973.4" cy="657.4" r="6.1" fill="#fff" stroke="#000" stroke-width="3.2"/>
<circle cx="1043.3" cy="691.8" r="6.1" fill="#fff" stroke="#000" stroke-width="3.2"/>
<path d="M694.3 572L763.9 583" stroke="#000" stroke-width="3.4" fill="none" stroke-dasharray="13 9" stroke-dashoffset="-8"/>
<line x1="903.8" y1="651.3" x2="903.8" y2="666.0" stroke="#000" stroke-width="2"/>
<line x1="895.8" y1="651.3" x2="911.8" y2="651.3" stroke="#000" stroke-width="2"/>
<line x1="895.8" y1="666.0" x2="911.8" y2="666.0" stroke="#000" stroke-width="2"/>
<line x1="1043.3" y1="744.2" x2="1043.3" y2="764.9" stroke="#000" stroke-width="2"/>
<line x1="1035.3" y1="744.2" x2="1051.3" y2="744.2" stroke="#000" stroke-width="2"/>
<line x1="1035.3" y1="764.9" x2="1051.3" y2="764.9" stroke="#000" stroke-width="2"/>
<path d="M694.3 572.0L763.9 598.8L833.9 622.9L903.8 658.8L973.4 707.3L1043.3 754.5" stroke="#000" stroke-width="3.4" fill="none" stroke-linejoin="round"/>
<circle cx="694.3" cy="572.0" r="7.1" fill="#000"/>
<circle cx="763.9" cy="598.8" r="7.1" fill="#000"/>
<circle cx="833.9" cy="622.9" r="7.1" fill="#000"/>
<circle cx="903.8" cy="658.8" r="7.1" fill="#000"/>
<circle cx="973.4" cy="707.3" r="7.1" fill="#000"/>
<circle cx="1043.3" cy="754.5" r="7.1" fill="#000"/>
<text x="765.0" y="577.7" font-size="25" text-anchor="middle" fill="#3a3a3a" letter-spacing="2.28">*</text>
<text x="834.3" y="586.4" font-size="25" text-anchor="middle" fill="#3a3a3a" letter-spacing="2.28">**</text>
<text x="904.5" y="613.9" font-size="25" text-anchor="middle" fill="#3a3a3a" letter-spacing="2.28">*</text>
<text x="973.8" y="645.6" font-size="25" text-anchor="middle" fill="#3a3a3a" letter-spacing="2.28">**</text>
<text x="1046.1" y="682.8" font-size="25" text-anchor="middle" fill="#3a3a3a" letter-spacing="2.28">***</text>
<line x1="1236.3" y1="581.8" x2="1236.3" y2="852.5" stroke="#000" stroke-width="2.4"/>
<line x1="1232.3" y1="851.5" x2="1651.7" y2="851.5" stroke="#000" stroke-width="2.6"/>
<line x1="1231.8" y1="590.2" x2="1236.3" y2="590.2" stroke="#333" stroke-width="1.3"/>
<line x1="1231.8" y1="597.3" x2="1236.3" y2="597.3" stroke="#333" stroke-width="1.3"/>
<line x1="1231.8" y1="605.4" x2="1236.3" y2="605.4" stroke="#333" stroke-width="1.3"/>
<line x1="1231.8" y1="614.8" x2="1236.3" y2="614.8" stroke="#333" stroke-width="1.3"/>
<line x1="1231.8" y1="625.9" x2="1236.3" y2="625.9" stroke="#333" stroke-width="1.3"/>
<line x1="1231.8" y1="639.4" x2="1236.3" y2="639.4" stroke="#333" stroke-width="1.3"/>
<line x1="1231.8" y1="656.8" x2="1236.3" y2="656.8" stroke="#333" stroke-width="1.3"/>
<line x1="1231.8" y1="681.4" x2="1236.3" y2="681.4" stroke="#333" stroke-width="1.3"/>
<line x1="1231.8" y1="729.4" x2="1236.3" y2="729.4" stroke="#333" stroke-width="1.3"/>
<line x1="1231.8" y1="735.9" x2="1236.3" y2="735.9" stroke="#333" stroke-width="1.3"/>
<line x1="1231.8" y1="743.3" x2="1236.3" y2="743.3" stroke="#333" stroke-width="1.3"/>
<line x1="1231.8" y1="751.9" x2="1236.3" y2="751.9" stroke="#333" stroke-width="1.3"/>
<line x1="1231.8" y1="762.0" x2="1236.3" y2="762.0" stroke="#333" stroke-width="1.3"/>
<line x1="1231.8" y1="774.4" x2="1236.3" y2="774.4" stroke="#333" stroke-width="1.3"/>
<line x1="1231.8" y1="790.4" x2="1236.3" y2="790.4" stroke="#333" stroke-width="1.3"/>
<line x1="1231.8" y1="813.0" x2="1236.3" y2="813.0" stroke="#333" stroke-width="1.3"/>
<line x1="1228.3" y1="583.8" x2="1236.3" y2="583.8" stroke="#111" stroke-width="2"/>
<text x="1227.5" y="591.7" font-size="22.0" text-anchor="end" fill="#222">1</text>
<line x1="1228.3" y1="723.5" x2="1236.3" y2="723.5" stroke="#111" stroke-width="2"/>
<text x="1227.5" y="731.4" font-size="22.0" text-anchor="end" fill="#222">0.1</text>
<line x1="1228.3" y1="851.5" x2="1236.3" y2="851.5" stroke="#111" stroke-width="2"/>
<text x="1227.5" y="859.4" font-size="22.0" text-anchor="end" fill="#222">0.01</text>
<line x1="1236.6" y1="851.5" x2="1236.6" y2="856.5" stroke="#111" stroke-width="2"/>
<text x="1236.6" y="884.0" font-size="22.0" text-anchor="middle" fill="#222">0</text>
<line x1="1306.4" y1="851.5" x2="1306.4" y2="856.5" stroke="#111" stroke-width="2"/>
<text x="1306.4" y="884.0" font-size="22.0" text-anchor="middle" fill="#222">1</text>
<line x1="1375.8" y1="851.5" x2="1375.8" y2="856.5" stroke="#111" stroke-width="2"/>
<text x="1375.8" y="884.0" font-size="22.0" text-anchor="middle" fill="#222">2</text>
<line x1="1444.5" y1="851.5" x2="1444.5" y2="856.5" stroke="#111" stroke-width="2"/>
<text x="1444.5" y="884.0" font-size="22.0" text-anchor="middle" fill="#222">3</text>
<line x1="1513.5" y1="851.5" x2="1513.5" y2="856.5" stroke="#111" stroke-width="2"/>
<text x="1513.5" y="884.0" font-size="22.0" text-anchor="middle" fill="#222">4</text>
<line x1="1582.6" y1="851.5" x2="1582.6" y2="856.5" stroke="#111" stroke-width="2"/>
<text x="1582.6" y="884.0" font-size="22.0" text-anchor="middle" fill="#222">5</text>
<text x="1606.5" y="884.0" font-size="25" font-weight="bold" textLength="31.0" lengthAdjust="spacingAndGlyphs">Gy</text>
<text x="1169.5" y="717.5" font-size="25" font-weight="bold" text-anchor="middle" textLength="204" lengthAdjust="spacingAndGlyphs" transform="rotate(-90 1169.5 717.5)">Surviving fraction</text>
<path d="M1306.4 596.3L1375.8 610.3L1444.5 640.6L1513.5 673.1L1582.6 706.5" stroke="#111" stroke-width="3.0" fill="none" stroke-dasharray="13 9" stroke-linejoin="round"/>
<circle cx="1306.4" cy="596.3" r="7.549999999999999" fill="#fff" stroke="#111" stroke-width="2.5"/>
<circle cx="1375.8" cy="610.3" r="7.549999999999999" fill="#fff" stroke="#111" stroke-width="2.5"/>
<circle cx="1444.5" cy="640.6" r="7.549999999999999" fill="#fff" stroke="#111" stroke-width="2.5"/>
<circle cx="1513.5" cy="673.1" r="7.549999999999999" fill="#fff" stroke="#111" stroke-width="2.5"/>
<circle cx="1582.6" cy="706.5" r="7.549999999999999" fill="#fff" stroke="#111" stroke-width="2.5"/>
<path d="M1236.6 582.8L1306.4 596.3" stroke="#000" stroke-width="3.4" fill="none" stroke-dasharray="13 9" stroke-dashoffset="-8"/>
<line x1="1513.5" y1="698.0" x2="1513.5" y2="715.0" stroke="#222" stroke-width="2"/>
<line x1="1505.5" y1="698.0" x2="1521.5" y2="698.0" stroke="#222" stroke-width="2"/>
<line x1="1505.5" y1="715.0" x2="1521.5" y2="715.0" stroke="#222" stroke-width="2"/>
<line x1="1582.6" y1="733.6" x2="1582.6" y2="779.2" stroke="#222" stroke-width="2"/>
<line x1="1574.6" y1="733.6" x2="1590.6" y2="733.6" stroke="#222" stroke-width="2"/>
<line x1="1574.6" y1="779.2" x2="1590.6" y2="779.2" stroke="#222" stroke-width="2"/>
<path d="M1236.6 582.8L1306.4 600.0L1375.8 626.1L1444.5 658.6L1513.5 707.0L1582.6 753.5" stroke="#000" stroke-width="3.4" fill="none" stroke-linejoin="round"/>
<circle cx="1236.6" cy="582.8" r="7.1" fill="#000"/>
<circle cx="1306.4" cy="600.0" r="7.1" fill="#000"/>
<circle cx="1375.8" cy="626.1" r="7.1" fill="#000"/>
<circle cx="1444.5" cy="658.6" r="7.1" fill="#000"/>
<circle cx="1513.5" cy="707.0" r="7.1" fill="#000"/>
<circle cx="1582.6" cy="753.5" r="7.1" fill="#000"/>
<text x="1376.9" y="606.7" font-size="25" text-anchor="middle" fill="#3a3a3a" letter-spacing="2.28">**</text>
<text x="1445.6" y="636.9" font-size="25" text-anchor="middle" fill="#3a3a3a" letter-spacing="2.28">**</text>
<text x="1512.8" y="669.4" font-size="25" text-anchor="middle" fill="#3a3a3a" letter-spacing="2.28">***</text>
<text x="1583.7" y="701.5" font-size="25" text-anchor="middle" fill="#3a3a3a" letter-spacing="2.28">**</text>
<line x1="1722.1" y1="578.7" x2="1808.8" y2="578.7" stroke="#000" stroke-width="5.6"/>
<circle cx="1765.0" cy="578.7" r="12.2" fill="#000"/>
<text x="1825.5" y="588.9" font-size="32" font-weight="bold" textLength="38.5" lengthAdjust="spacingAndGlyphs">Nx</text>
<line x1="1722.1" y1="617.3" x2="1808.8" y2="617.3" stroke="#000" stroke-width="5.6" stroke-dasharray="17.8 6.9 43.8 6.9 11"/>
<circle cx="1765.0" cy="617.3" r="9.6" fill="#fff" stroke="#000" stroke-width="5.8"/>
<text x="1825.5" y="628.3" font-size="32" font-weight="bold" textLength="38.5" lengthAdjust="spacingAndGlyphs">Hx</text>
<text x="3.0" y="1000.8" font-size="56" font-weight="bold" textLength="38.0" lengthAdjust="spacingAndGlyphs">C</text>
<text x="311.5" y="969.5" font-size="31" font-weight="bold" textLength="38.2" lengthAdjust="spacingAndGlyphs">Nx</text>
<text x="788.0" y="969.8" font-size="31" font-weight="bold" textLength="38.2" lengthAdjust="spacingAndGlyphs">Hx</text>
<rect x="179.2" y="1006.5" width="54.1" height="39.0" fill="#000" rx="3.5"/>
<text x="251.6" y="1033.5" font-size="30" font-weight="bold" textLength="233.2" lengthAdjust="spacingAndGlyphs">non-sel. NCI-H460</text>
<rect x="179.2" y="1050.9" width="54.1" height="39.0" fill="#868686" rx="3.5"/>
<text x="251.6" y="1078.5" font-size="30" font-weight="bold" textLength="216.7" lengthAdjust="spacingAndGlyphs">Hx-sel. NCI-H460</text>
<rect x="684.2" y="1010.0" width="48.6" height="32.2" fill="#fff" stroke="#000" stroke-width="5.6" rx="2"/>
<text x="754.0" y="1033.5" font-size="30" font-weight="bold" textLength="233.7" lengthAdjust="spacingAndGlyphs">non-sel. NCI-H460</text>
<rect x="684.2" y="1054.5" width="48.6" height="32.2" fill="#fff" stroke="#858585" stroke-width="5.6" rx="2"/>
<text x="754.0" y="1079.0" font-size="30" font-weight="bold" textLength="216.5" lengthAdjust="spacingAndGlyphs">Hx-sel. NCI-H460</text>
<rect x="174.7" y="1374.8" width="35.4" height="26.1" fill="#000"/>
<line x1="192.4" y1="1400.9" x2="192.4" y2="1408.9" stroke="#111" stroke-width="2"/>
<text x="192.4" y="1436.0" font-size="22" text-anchor="middle" fill="#222" class="dj">48</text>
<text x="192.4" y="1469.5" font-size="22" text-anchor="middle" fill="#222" class="dj">-</text>
<line x1="235.9" y1="1328.3" x2="235.9" y2="1336.3" stroke="#000" stroke-width="2"/>
<line x1="227.9" y1="1328.3" x2="243.9" y2="1328.3" stroke="#000" stroke-width="2"/>
<rect x="218.2" y="1334.3" width="35.5" height="66.6" fill="#000"/>
<line x1="235.9" y1="1400.9" x2="235.9" y2="1408.9" stroke="#111" stroke-width="2"/>
<text x="235.9" y="1436.0" font-size="22" text-anchor="middle" fill="#222" class="dj">48</text>
<text x="235.9" y="1469.5" font-size="22" text-anchor="middle" fill="#222" class="dj">+</text>
<rect x="261.2" y="1278.1" width="35.4" height="122.8" fill="#000"/>
<line x1="278.9" y1="1400.9" x2="278.9" y2="1408.9" stroke="#111" stroke-width="2"/>
<text x="278.9" y="1436.0" font-size="22" text-anchor="middle" fill="#222" class="dj">72</text>
<text x="278.9" y="1469.5" font-size="22" text-anchor="middle" fill="#222" class="dj">+</text>
<line x1="350.3" y1="1381.5" x2="350.3" y2="1385.8" stroke="#8a8a8a" stroke-width="2"/>
<line x1="342.3" y1="1381.5" x2="358.3" y2="1381.5" stroke="#8a8a8a" stroke-width="2"/>
<rect x="333.8" y="1383.8" width="33.0" height="17.1" fill="#9a9a9a"/>
<line x1="350.3" y1="1400.9" x2="350.3" y2="1408.9" stroke="#111" stroke-width="2"/>
<text x="350.3" y="1436.0" font-size="22" text-anchor="middle" fill="#222" class="dj">48</text>
<text x="350.3" y="1469.5" font-size="22" text-anchor="middle" fill="#222" class="dj">-</text>
<line x1="393.6" y1="1353.2" x2="393.6" y2="1358.8" stroke="#8a8a8a" stroke-width="2"/>
<line x1="385.6" y1="1353.2" x2="401.6" y2="1353.2" stroke="#8a8a8a" stroke-width="2"/>
<rect x="377.3" y="1356.8" width="32.5" height="44.1" fill="#9a9a9a"/>
<line x1="393.6" y1="1400.9" x2="393.6" y2="1408.9" stroke="#111" stroke-width="2"/>
<text x="393.6" y="1436.0" font-size="22" text-anchor="middle" fill="#222" class="dj">48</text>
<text x="393.6" y="1469.5" font-size="22" text-anchor="middle" fill="#222" class="dj">+</text>
<line x1="437.1" y1="1299.2" x2="437.1" y2="1306.9" stroke="#8a8a8a" stroke-width="2"/>
<line x1="429.1" y1="1299.2" x2="445.1" y2="1299.2" stroke="#8a8a8a" stroke-width="2"/>
<rect x="420.9" y="1304.9" width="32.4" height="96.0" fill="#9a9a9a"/>
<line x1="437.1" y1="1400.9" x2="437.1" y2="1408.9" stroke="#111" stroke-width="2"/>
<text x="437.1" y="1436.0" font-size="22" text-anchor="middle" fill="#222" class="dj">72</text>
<text x="437.1" y="1469.5" font-size="22" text-anchor="middle" fill="#222" class="dj">+</text>
<line x1="156.7" y1="1102.7" x2="156.7" y2="1401.9" stroke="#000" stroke-width="2.4"/>
<line x1="149.2" y1="1400.9" x2="474.3" y2="1400.9" stroke="#000" stroke-width="2.6"/>
<line x1="148.7" y1="1400.9" x2="156.7" y2="1400.9" stroke="#111" stroke-width="2"/>
<text x="143.2" y="1408.7" font-size="22" text-anchor="end" fill="#222" class="dj">0</text>
<line x1="148.7" y1="1341.5" x2="156.7" y2="1341.5" stroke="#111" stroke-width="2"/>
<text x="143.2" y="1349.3" font-size="22" text-anchor="end" fill="#222" class="dj">10</text>
<line x1="148.7" y1="1282.0" x2="156.7" y2="1282.0" stroke="#111" stroke-width="2"/>
<text x="143.2" y="1289.8" font-size="22" text-anchor="end" fill="#222" class="dj">20</text>
<line x1="148.7" y1="1222.6" x2="156.7" y2="1222.6" stroke="#111" stroke-width="2"/>
<text x="143.2" y="1230.4" font-size="22" text-anchor="end" fill="#222" class="dj">30</text>
<line x1="148.7" y1="1163.1" x2="156.7" y2="1163.1" stroke="#111" stroke-width="2"/>
<text x="143.2" y="1171.0" font-size="22" text-anchor="end" fill="#222" class="dj">40</text>
<line x1="148.7" y1="1103.7" x2="156.7" y2="1103.7" stroke="#111" stroke-width="2"/>
<text x="143.2" y="1111.5" font-size="22" text-anchor="end" fill="#222" class="dj">50</text>
<text x="98.5" y="1254.7" font-size="27.5" font-weight="bold" text-anchor="middle" textLength="201" lengthAdjust="spacingAndGlyphs" transform="rotate(-90 98.5 1254.7)" class="dj">Sub G1 [% cells]</text>
<path d="M279.2 1178.2V1166.2H434.4V1178.2" stroke="#222" stroke-width="2" fill="none"/>
<text x="356.3" y="1172.4" font-size="28" text-anchor="middle" fill="#3a3a3a" letter-spacing="2.41">***</text>
<path d="M236.6 1203.7V1185.7H392.7V1203.7" stroke="#666" stroke-width="2.6" fill="none"/>
<text x="314.3" y="1191.9" font-size="28" text-anchor="middle" fill="#3a3a3a" letter-spacing="2.41">**</text>
<text x="238.4" y="1332.4" font-size="28" text-anchor="middle" fill="#3a3a3a" letter-spacing="2.41">***</text>
<text x="282.5" y="1281.9" font-size="28" text-anchor="middle" fill="#3a3a3a" letter-spacing="2.41">***</text>
<text x="394.5" y="1358.8" font-size="28" text-anchor="middle" fill="#3a3a3a" letter-spacing="2.41">***</text>
<text x="438.9" y="1303.9" font-size="28" text-anchor="middle" fill="#3a3a3a" letter-spacing="2.41">***</text>
<rect x="675.1" y="1373.6" width="28.6" height="28.7" fill="#fff" stroke="#000" stroke-width="3.5"/>
<line x1="689.4" y1="1402.3" x2="689.4" y2="1410.3" stroke="#111" stroke-width="2"/>
<text x="689.4" y="1437.3" font-size="22" text-anchor="middle" fill="#222" class="dj">48</text>
<text x="689.4" y="1470.5" font-size="22" text-anchor="middle" fill="#222" class="dj">-</text>
<line x1="732.7" y1="1356.6" x2="732.7" y2="1364.6" stroke="#000" stroke-width="2"/>
<line x1="724.7" y1="1356.6" x2="740.7" y2="1356.6" stroke="#000" stroke-width="2"/>
<rect x="718.4" y="1364.2" width="28.6" height="38.1" fill="#fff" stroke="#000" stroke-width="3.5"/>
<line x1="732.7" y1="1402.3" x2="732.7" y2="1410.3" stroke="#111" stroke-width="2"/>
<text x="732.7" y="1437.3" font-size="22" text-anchor="middle" fill="#222" class="dj">48</text>
<text x="732.7" y="1470.5" font-size="22" text-anchor="middle" fill="#222" class="dj">+</text>
<line x1="775.7" y1="1303.9" x2="775.7" y2="1309.5" stroke="#000" stroke-width="2"/>
<line x1="767.7" y1="1303.9" x2="783.7" y2="1303.9" stroke="#000" stroke-width="2"/>
<rect x="761.4" y="1309.1" width="28.6" height="93.2" fill="#fff" stroke="#000" stroke-width="3.5"/>
<line x1="775.7" y1="1402.3" x2="775.7" y2="1410.3" stroke="#111" stroke-width="2"/>
<text x="775.7" y="1437.3" font-size="22" text-anchor="middle" fill="#222" class="dj">72</text>
<text x="775.7" y="1470.5" font-size="22" text-anchor="middle" fill="#222" class="dj">+</text>
<rect x="833.4" y="1389.4" width="28.6" height="12.9" fill="#fff" stroke="#a0a0a0" stroke-width="3.2"/>
<line x1="847.7" y1="1402.3" x2="847.7" y2="1410.3" stroke="#111" stroke-width="2"/>
<text x="847.7" y="1437.3" font-size="22" text-anchor="middle" fill="#222" class="dj">48</text>
<text x="847.7" y="1470.5" font-size="22" text-anchor="middle" fill="#222" class="dj">-</text>
<line x1="890.7" y1="1365.0" x2="890.7" y2="1376.1" stroke="#333" stroke-width="2"/>
<line x1="882.7" y1="1365.0" x2="898.7" y2="1365.0" stroke="#333" stroke-width="2"/>
<rect x="876.4" y="1375.7" width="28.6" height="26.6" fill="#fff" stroke="#a0a0a0" stroke-width="3.2"/>
<line x1="890.7" y1="1402.3" x2="890.7" y2="1410.3" stroke="#111" stroke-width="2"/>
<text x="890.7" y="1437.3" font-size="22" text-anchor="middle" fill="#222" class="dj">48</text>
<text x="890.7" y="1470.5" font-size="22" text-anchor="middle" fill="#222" class="dj">+</text>
<rect x="919.7" y="1353.9" width="28.6" height="48.4" fill="#fff" stroke="#a0a0a0" stroke-width="3.2"/>
<line x1="934.0" y1="1402.3" x2="934.0" y2="1410.3" stroke="#111" stroke-width="2"/>
<text x="934.0" y="1437.3" font-size="22" text-anchor="middle" fill="#222" class="dj">72</text>
<text x="934.0" y="1470.5" font-size="22" text-anchor="middle" fill="#222" class="dj">+</text>
<line x1="654.1" y1="1102.8" x2="654.1" y2="1403.3" stroke="#000" stroke-width="2.4"/>
<line x1="647.2" y1="1402.3" x2="972.6" y2="1402.3" stroke="#000" stroke-width="2.6"/>
<line x1="646.1" y1="1402.5" x2="654.1" y2="1402.5" stroke="#111" stroke-width="2"/>
<text x="640.6" y="1410.3" font-size="22" text-anchor="end" fill="#222" class="dj">0</text>
<line x1="646.1" y1="1343.3" x2="654.1" y2="1343.3" stroke="#111" stroke-width="2"/>
<text x="640.6" y="1351.1" font-size="22" text-anchor="end" fill="#222" class="dj">10</text>
<line x1="646.1" y1="1284.1" x2="654.1" y2="1284.1" stroke="#111" stroke-width="2"/>
<text x="640.6" y="1291.9" font-size="22" text-anchor="end" fill="#222" class="dj">20</text>
<line x1="646.1" y1="1224.5" x2="654.1" y2="1224.5" stroke="#111" stroke-width="2"/>
<text x="640.6" y="1232.3" font-size="22" text-anchor="end" fill="#222" class="dj">30</text>
<line x1="646.1" y1="1165.4" x2="654.1" y2="1165.4" stroke="#111" stroke-width="2"/>
<text x="640.6" y="1173.2" font-size="22" text-anchor="end" fill="#222" class="dj">40</text>
<line x1="646.1" y1="1103.8" x2="654.1" y2="1103.8" stroke="#111" stroke-width="2"/>
<text x="640.6" y="1111.6" font-size="22" text-anchor="end" fill="#222" class="dj">50</text>
<text x="590.0" y="1259.0" font-size="27.5" font-weight="bold" text-anchor="middle" textLength="200" lengthAdjust="spacingAndGlyphs" transform="rotate(-90 590.0 1259.0)" class="dj">Sub G1 [% cells]</text>
<text x="970.0" y="1437.3" font-size="25" font-weight="bold" class="dj">h</text>
<text x="969.5" y="1472.5" font-size="25" font-weight="bold" textLength="75.0" lengthAdjust="spacingAndGlyphs" class="dj">10 Gy</text>
<path d="M777.9 1185.8V1166.7H935.4V1185.8" stroke="#555" stroke-width="2.4" fill="none"/>
<text x="860.3" y="1172.9" font-size="28" text-anchor="middle" fill="#3a3a3a" letter-spacing="2.41">***</text>
<path d="M685.6 1241.5V1222.2H843.0V1241.5" stroke="#222" stroke-width="2" fill="none"/>
<text x="760.4" y="1228.3" font-size="28" text-anchor="middle" fill="#3a3a3a" letter-spacing="2.41">*</text>
<text x="780.1" y="1308.5" font-size="28" text-anchor="middle" fill="#3a3a3a" letter-spacing="2.41">***</text>
<text x="936.6" y="1351.8" font-size="28" text-anchor="middle" fill="#3a3a3a" letter-spacing="2.41">***</text>
<line x1="840.0" y1="1388.3" x2="856.0" y2="1388.3" stroke="#333" stroke-width="2"/>
<line x1="926.0" y1="1352.8" x2="942.0" y2="1352.8" stroke="#333" stroke-width="2"/>
<text x="9.0" y="1557.5" font-size="54" font-weight="bold" textLength="37.0" lengthAdjust="spacingAndGlyphs">D</text>
<text x="311.5" y="1535.0" font-size="31" font-weight="bold" textLength="38.2" lengthAdjust="spacingAndGlyphs">Nx</text>
<text x="788.0" y="1534.8" font-size="31" font-weight="bold" textLength="38.2" lengthAdjust="spacingAndGlyphs">Hx</text>
<line x1="160.8" y1="1580.4" x2="248.5" y2="1580.4" stroke="#000" stroke-width="5.5"/>
<circle cx="204.0" cy="1580.4" r="12.6" fill="#000"/>
<text x="264.5" y="1589.2" font-size="30" font-weight="bold" textLength="232.5" lengthAdjust="spacingAndGlyphs">non-sel. NCI-H460</text>
<line x1="160.8" y1="1617.0" x2="248.5" y2="1617.0" stroke="#8c8c8c" stroke-width="5.5"/>
<circle cx="204.0" cy="1617.0" r="12.6" fill="#8c8c8c"/>
<text x="264.5" y="1625.7" font-size="30" font-weight="bold" textLength="216.4" lengthAdjust="spacingAndGlyphs">Hx-sel. NCI-H460</text>
<line x1="666.8" y1="1580.8" x2="754.6" y2="1580.8" stroke="#000" stroke-width="5.5" stroke-dasharray="18.4 9.3 44.2 5.6 9.9"/>
<circle cx="709.8" cy="1580.8" r="10.0" fill="#fff" stroke="#000" stroke-width="5.5"/>
<text x="771.3" y="1590.0" font-size="30" font-weight="bold" textLength="233.1" lengthAdjust="spacingAndGlyphs">non-sel. NCI-H460</text>
<line x1="666.8" y1="1616.6" x2="754.6" y2="1616.6" stroke="#8c8c8c" stroke-width="5.5" stroke-dasharray="18.4 9.3 44.2 5.6 9.9"/>
<circle cx="709.8" cy="1616.6" r="10.0" fill="#fff" stroke="#8c8c8c" stroke-width="5.5"/>
<text x="771.3" y="1625.6" font-size="30" font-weight="bold" textLength="215.9" lengthAdjust="spacingAndGlyphs">Hx-sel. NCI-H460</text>
<line x1="156.4" y1="1660.0" x2="156.4" y2="1941.0" stroke="#000" stroke-width="2.4"/>
<line x1="155.2" y1="1940.0" x2="517.4" y2="1940.0" stroke="#000" stroke-width="2.6"/>
<line x1="151.9" y1="1677.5" x2="156.4" y2="1677.5" stroke="#333" stroke-width="1.3"/>
<line x1="151.9" y1="1687.1" x2="156.4" y2="1687.1" stroke="#333" stroke-width="1.3"/>
<line x1="151.9" y1="1697.9" x2="156.4" y2="1697.9" stroke="#333" stroke-width="1.3"/>
<line x1="151.9" y1="1710.4" x2="156.4" y2="1710.4" stroke="#333" stroke-width="1.3"/>
<line x1="151.9" y1="1725.2" x2="156.4" y2="1725.2" stroke="#333" stroke-width="1.3"/>
<line x1="151.9" y1="1743.3" x2="156.4" y2="1743.3" stroke="#333" stroke-width="1.3"/>
<line x1="151.9" y1="1766.7" x2="156.4" y2="1766.7" stroke="#333" stroke-width="1.3"/>
<line x1="151.9" y1="1799.6" x2="156.4" y2="1799.6" stroke="#333" stroke-width="1.3"/>
<line x1="151.9" y1="1864.3" x2="156.4" y2="1864.3" stroke="#333" stroke-width="1.3"/>
<line x1="151.9" y1="1873.9" x2="156.4" y2="1873.9" stroke="#333" stroke-width="1.3"/>
<line x1="151.9" y1="1884.7" x2="156.4" y2="1884.7" stroke="#333" stroke-width="1.3"/>
<line x1="151.9" y1="1897.2" x2="156.4" y2="1897.2" stroke="#333" stroke-width="1.3"/>
<line x1="151.9" y1="1912.0" x2="156.4" y2="1912.0" stroke="#333" stroke-width="1.3"/>
<line x1="151.9" y1="1930.1" x2="156.4" y2="1930.1" stroke="#333" stroke-width="1.3"/>
<line x1="148.4" y1="1669.0" x2="156.4" y2="1669.0" stroke="#111" stroke-width="2"/>
<text x="145.5" y="1677.4" font-size="23.2" text-anchor="end" fill="#222">1</text>
<line x1="148.4" y1="1855.8" x2="156.4" y2="1855.8" stroke="#111" stroke-width="2"/>
<text x="145.5" y="1864.2" font-size="23.2" text-anchor="end" fill="#222">0.1</text>
<line x1="157.0" y1="1940.0" x2="157.0" y2="1948.0" stroke="#111" stroke-width="2"/>
<text x="157.0" y="1973.5" font-size="23.2" text-anchor="middle" fill="#222">0</text>
<line x1="216.9" y1="1940.0" x2="216.9" y2="1948.0" stroke="#111" stroke-width="2"/>
<text x="216.9" y="1973.5" font-size="23.2" text-anchor="middle" fill="#222">1</text>
<line x1="276.8" y1="1940.0" x2="276.8" y2="1948.0" stroke="#111" stroke-width="2"/>
<text x="276.8" y="1973.5" font-size="23.2" text-anchor="middle" fill="#222">2</text>
<line x1="336.2" y1="1940.0" x2="336.2" y2="1948.0" stroke="#111" stroke-width="2"/>
<text x="336.2" y="1973.5" font-size="23.2" text-anchor="middle" fill="#222">3</text>
<line x1="396.1" y1="1940.0" x2="396.1" y2="1948.0" stroke="#111" stroke-width="2"/>
<text x="396.1" y="1973.5" font-size="23.2" text-anchor="middle" fill="#222">4</text>
<line x1="455.4" y1="1940.0" x2="455.4" y2="1948.0" stroke="#111" stroke-width="2"/>
<text x="455.4" y="1973.5" font-size="23.2" text-anchor="middle" fill="#222">5</text>
<text x="86.5" y="1803.3" font-size="25" font-weight="bold" text-anchor="middle" textLength="209" lengthAdjust="spacingAndGlyphs" transform="rotate(-90 86.5 1803.3)">Surviving fraction</text>
<line x1="396.1" y1="1822.4" x2="396.1" y2="1843.5" stroke="#777" stroke-width="2"/>
<line x1="388.1" y1="1822.4" x2="404.1" y2="1822.4" stroke="#777" stroke-width="2"/>
<line x1="455.4" y1="1870.6" x2="455.4" y2="1894.6" stroke="#777" stroke-width="2"/>
<line x1="447.4" y1="1870.6" x2="463.4" y2="1870.6" stroke="#777" stroke-width="2"/>
<path d="M157.0 1669.5L216.9 1692.0L276.8 1726.0L336.2 1769.5L396.1 1833.2L455.4 1894.6" stroke="#969696" stroke-width="3.4" fill="none" stroke-linejoin="round"/>
<circle cx="157.0" cy="1669.5" r="7.2" fill="#969696"/>
<circle cx="216.9" cy="1692.0" r="7.2" fill="#969696"/>
<circle cx="276.8" cy="1726.0" r="7.2" fill="#969696"/>
<circle cx="336.2" cy="1769.5" r="7.2" fill="#969696"/>
<circle cx="396.1" cy="1833.2" r="7.2" fill="#969696"/>
<circle cx="455.4" cy="1894.6" r="7.2" fill="#969696"/>
<line x1="336.2" y1="1779.2" x2="336.2" y2="1798.2" stroke="#000" stroke-width="2"/>
<line x1="328.2" y1="1779.2" x2="344.2" y2="1779.2" stroke="#000" stroke-width="2"/>
<line x1="328.2" y1="1798.2" x2="344.2" y2="1798.2" stroke="#000" stroke-width="2"/>
<line x1="396.1" y1="1847.9" x2="396.1" y2="1861.9" stroke="#000" stroke-width="2"/>
<line x1="388.1" y1="1847.9" x2="404.1" y2="1847.9" stroke="#000" stroke-width="2"/>
<line x1="388.1" y1="1861.9" x2="404.1" y2="1861.9" stroke="#000" stroke-width="2"/>
<line x1="455.4" y1="1906.3" x2="455.4" y2="1934.1" stroke="#000" stroke-width="2"/>
<line x1="447.4" y1="1906.3" x2="463.4" y2="1906.3" stroke="#000" stroke-width="2"/>
<line x1="447.4" y1="1934.1" x2="463.4" y2="1934.1" stroke="#000" stroke-width="2"/>
<path d="M157.0 1669.5L216.9 1705.5L276.8 1740.3L336.2 1788.8L396.1 1855.2L455.4 1918.9" stroke="#000" stroke-width="3.4" fill="none" stroke-linejoin="round"/>
<circle cx="157.0" cy="1669.5" r="7.2" fill="#000"/>
<circle cx="216.9" cy="1705.5" r="7.2" fill="#000"/>
<circle cx="276.8" cy="1740.3" r="7.2" fill="#000"/>
<circle cx="336.2" cy="1788.8" r="7.2" fill="#000"/>
<circle cx="396.1" cy="1855.2" r="7.2" fill="#000"/>
<circle cx="455.4" cy="1918.9" r="7.2" fill="#000"/>
<line x1="447.4" y1="1930.5" x2="463.4" y2="1930.5" stroke="#000" stroke-width="2"/>
<text x="217.6" y="1680.8" font-size="21" text-anchor="middle" fill="#3a3a3a" letter-spacing="3.83">*</text>
<text x="278.1" y="1715.3" font-size="21" text-anchor="middle" fill="#3a3a3a" letter-spacing="3.83">*</text>
<text x="337.5" y="1760.0" font-size="21" text-anchor="middle" fill="#3a3a3a" letter-spacing="3.83">*</text>
<line x1="654.1" y1="1668.4" x2="654.1" y2="1939.1" stroke="#000" stroke-width="2.4"/>
<line x1="652.9" y1="1938.1" x2="1013.5" y2="1938.1" stroke="#000" stroke-width="2.6"/>
<line x1="649.6" y1="1678.9" x2="654.1" y2="1678.9" stroke="#333" stroke-width="1.3"/>
<line x1="649.6" y1="1688.4" x2="654.1" y2="1688.4" stroke="#333" stroke-width="1.3"/>
<line x1="649.6" y1="1699.1" x2="654.1" y2="1699.1" stroke="#333" stroke-width="1.3"/>
<line x1="649.6" y1="1711.5" x2="654.1" y2="1711.5" stroke="#333" stroke-width="1.3"/>
<line x1="649.6" y1="1726.2" x2="654.1" y2="1726.2" stroke="#333" stroke-width="1.3"/>
<line x1="649.6" y1="1744.1" x2="654.1" y2="1744.1" stroke="#333" stroke-width="1.3"/>
<line x1="649.6" y1="1767.3" x2="654.1" y2="1767.3" stroke="#333" stroke-width="1.3"/>
<line x1="649.6" y1="1799.9" x2="654.1" y2="1799.9" stroke="#333" stroke-width="1.3"/>
<line x1="649.6" y1="1864.2" x2="654.1" y2="1864.2" stroke="#333" stroke-width="1.3"/>
<line x1="649.6" y1="1873.7" x2="654.1" y2="1873.7" stroke="#333" stroke-width="1.3"/>
<line x1="649.6" y1="1884.4" x2="654.1" y2="1884.4" stroke="#333" stroke-width="1.3"/>
<line x1="649.6" y1="1896.8" x2="654.1" y2="1896.8" stroke="#333" stroke-width="1.3"/>
<line x1="649.6" y1="1911.5" x2="654.1" y2="1911.5" stroke="#333" stroke-width="1.3"/>
<line x1="649.6" y1="1929.4" x2="654.1" y2="1929.4" stroke="#333" stroke-width="1.3"/>
<line x1="646.1" y1="1670.4" x2="654.1" y2="1670.4" stroke="#111" stroke-width="2"/>
<text x="641.5" y="1678.8" font-size="23.2" text-anchor="end" fill="#444">1</text>
<line x1="646.1" y1="1855.7" x2="654.1" y2="1855.7" stroke="#111" stroke-width="2"/>
<text x="641.5" y="1864.1" font-size="23.2" text-anchor="end" fill="#444">0.1</text>
<line x1="654.1" y1="1938.1" x2="654.1" y2="1946.1" stroke="#111" stroke-width="2"/>
<text x="654.1" y="1974.0" font-size="23.2" text-anchor="middle" fill="#444">0</text>
<line x1="713.2" y1="1938.1" x2="713.2" y2="1946.1" stroke="#111" stroke-width="2"/>
<text x="713.2" y="1974.0" font-size="23.2" text-anchor="middle" fill="#444">1</text>
<line x1="772.8" y1="1938.1" x2="772.8" y2="1946.1" stroke="#111" stroke-width="2"/>
<text x="772.8" y="1974.0" font-size="23.2" text-anchor="middle" fill="#444">2</text>
<line x1="832.4" y1="1938.1" x2="832.4" y2="1946.1" stroke="#111" stroke-width="2"/>
<text x="832.4" y="1974.0" font-size="23.2" text-anchor="middle" fill="#444">3</text>
<line x1="893.0" y1="1938.1" x2="893.0" y2="1946.1" stroke="#111" stroke-width="2"/>
<text x="893.0" y="1974.0" font-size="23.2" text-anchor="middle" fill="#444">4</text>
<line x1="952.3" y1="1938.1" x2="952.3" y2="1946.1" stroke="#111" stroke-width="2"/>
<text x="952.3" y="1974.0" font-size="23.2" text-anchor="middle" fill="#444">5</text>
<text x="973.5" y="1974.0" font-size="25" font-weight="bold" textLength="31.0" lengthAdjust="spacingAndGlyphs">Gy</text>
<text x="592.5" y="1803.5" font-size="25" font-weight="bold" text-anchor="middle" textLength="208" lengthAdjust="spacingAndGlyphs" transform="rotate(-90 592.5 1803.5)">Surviving fraction</text>
<line x1="772.8" y1="1694.0" x2="772.8" y2="1712.0" stroke="#888" stroke-width="2"/>
<line x1="764.8" y1="1694.0" x2="780.8" y2="1694.0" stroke="#888" stroke-width="2"/>
<line x1="764.8" y1="1712.0" x2="780.8" y2="1712.0" stroke="#888" stroke-width="2"/>
<line x1="832.4" y1="1732.0" x2="832.4" y2="1757.0" stroke="#888" stroke-width="2"/>
<line x1="824.4" y1="1732.0" x2="840.4" y2="1732.0" stroke="#888" stroke-width="2"/>
<line x1="824.4" y1="1757.0" x2="840.4" y2="1757.0" stroke="#888" stroke-width="2"/>
<path d="M654.1 1671.5L713.2 1688.3L772.8 1705.3L832.4 1744.6L893.0 1788.0L952.3 1833.0" stroke="#969696" stroke-width="3.6" fill="none" stroke-dasharray="13 9" stroke-linejoin="round"/>
<circle cx="654.1" cy="1671.5" r="5.85" fill="#fff" stroke="#969696" stroke-width="3.9"/>
<circle cx="713.2" cy="1688.3" r="5.85" fill="#fff" stroke="#969696" stroke-width="3.9"/>
<circle cx="772.8" cy="1705.3" r="5.85" fill="#fff" stroke="#969696" stroke-width="3.9"/>
<circle cx="832.4" cy="1744.6" r="5.85" fill="#fff" stroke="#969696" stroke-width="3.9"/>
<circle cx="893.0" cy="1788.0" r="5.85" fill="#fff" stroke="#969696" stroke-width="3.9"/>
<circle cx="952.3" cy="1833.0" r="5.85" fill="#fff" stroke="#969696" stroke-width="3.9"/>
<line x1="713.2" y1="1679.5" x2="713.2" y2="1691.5" stroke="#000" stroke-width="2"/>
<line x1="705.2" y1="1679.5" x2="721.2" y2="1679.5" stroke="#000" stroke-width="2"/>
<line x1="705.2" y1="1691.5" x2="721.2" y2="1691.5" stroke="#000" stroke-width="2"/>
<line x1="772.8" y1="1691.6" x2="772.8" y2="1709.8" stroke="#000" stroke-width="2"/>
<line x1="764.8" y1="1691.6" x2="780.8" y2="1691.6" stroke="#000" stroke-width="2"/>
<line x1="764.8" y1="1709.8" x2="780.8" y2="1709.8" stroke="#000" stroke-width="2"/>
<line x1="832.4" y1="1730.1" x2="832.4" y2="1756.7" stroke="#000" stroke-width="2"/>
<line x1="824.4" y1="1730.1" x2="840.4" y2="1730.1" stroke="#000" stroke-width="2"/>
<line x1="824.4" y1="1756.7" x2="840.4" y2="1756.7" stroke="#000" stroke-width="2"/>
<line x1="893.0" y1="1774.9" x2="893.0" y2="1799.1" stroke="#000" stroke-width="2"/>
<line x1="885.0" y1="1774.9" x2="901.0" y2="1774.9" stroke="#000" stroke-width="2"/>
<line x1="885.0" y1="1799.1" x2="901.0" y2="1799.1" stroke="#000" stroke-width="2"/>
<path d="M654.1 1670.4L713.2 1685.6L772.8 1700.7L832.4 1742.8L893.0 1786.1L952.3 1833.0" stroke="#000" stroke-width="3.6" fill="none" stroke-dasharray="13 9" stroke-linejoin="round"/>
<circle cx="654.1" cy="1670.4" r="5.85" fill="#fff" stroke="#000" stroke-width="3.9"/>
<circle cx="713.2" cy="1685.6" r="5.85" fill="#fff" stroke="#000" stroke-width="3.9"/>
<circle cx="772.8" cy="1700.7" r="5.85" fill="#fff" stroke="#000" stroke-width="3.9"/>
<circle cx="832.4" cy="1742.8" r="5.85" fill="#fff" stroke="#000" stroke-width="3.9"/>
<circle cx="893.0" cy="1786.1" r="5.85" fill="#fff" stroke="#000" stroke-width="3.9"/>
<circle cx="952.3" cy="1833.0" r="5.85" fill="#fff" stroke="#000" stroke-width="3.9"/>
<text x="1108.2" y="1046.3" font-size="56" font-weight="bold" textLength="32.0" lengthAdjust="spacingAndGlyphs">E</text>
<text x="1670.9" y="1029.2" font-size="32" font-weight="bold" textLength="138.0" lengthAdjust="spacingAndGlyphs">NCI-H460</text>
<text x="1403.9" y="1075.7" font-size="28.6" textLength="97.7" lengthAdjust="spacingAndGlyphs" stroke="#000" stroke-width="0.9">HCT116</text>
<text x="1592.6" y="1075.4" font-size="28.6" textLength="103.4" lengthAdjust="spacingAndGlyphs" stroke="#000" stroke-width="0.9">non-sel.</text>
<text x="1774.7" y="1075.4" font-size="28.6" textLength="88.1" lengthAdjust="spacingAndGlyphs" stroke="#000" stroke-width="0.9">Hx-sel.</text>
<line x1="1373.6" y1="1089.5" x2="1534.7" y2="1089.5" stroke="#000" stroke-width="1.8"/>
<line x1="1564.4" y1="1089.2" x2="1725.2" y2="1089.2" stroke="#000" stroke-width="1.8"/>
<line x1="1739.6" y1="1089.2" x2="1901.1" y2="1089.2" stroke="#000" stroke-width="1.8"/>
<text x="1393.6" y="1132.5" font-size="28" font-weight="bold" textLength="33.4" lengthAdjust="spacingAndGlyphs">Nx</text>
<text x="1478.3" y="1132.5" font-size="28" font-weight="bold" textLength="33.4" lengthAdjust="spacingAndGlyphs">Hx</text>
<text x="1582.1" y="1132.5" font-size="28" font-weight="bold" textLength="33.4" lengthAdjust="spacingAndGlyphs">Nx</text>
<text x="1669.1" y="1132.5" font-size="28" font-weight="bold" textLength="33.4" lengthAdjust="spacingAndGlyphs">Hx</text>
<text x="1758.0" y="1132.5" font-size="28" font-weight="bold" textLength="33.4" lengthAdjust="spacingAndGlyphs">Nx</text>
<text x="1845.0" y="1132.5" font-size="28" font-weight="bold" textLength="33.4" lengthAdjust="spacingAndGlyphs">Hx</text>
<text x="1105.0" y="1231.8" font-size="28" textLength="113.3" lengthAdjust="spacingAndGlyphs" stroke="#000" stroke-width="0.6">Effectors</text>
<text x="1129.9" y="1398.0" font-size="28" textLength="59.6" lengthAdjust="spacingAndGlyphs" stroke="#000" stroke-width="0.6">anti-</text>
<text x="1098.5" y="1430.3" font-size="28" textLength="123.8" lengthAdjust="spacingAndGlyphs" stroke="#000" stroke-width="0.6">apoptotic</text>
<text x="1102.2" y="1667.0" font-size="28" textLength="117.3" lengthAdjust="spacingAndGlyphs" stroke="#000" stroke-width="0.6">BH3-only</text>
<text x="1094.8" y="1700.8" font-size="28" textLength="133.9" lengthAdjust="spacingAndGlyphs" stroke="#000" stroke-width="0.6">regulators</text>
<line x1="1249.3" y1="1151.1" x2="1249.3" y2="1279.9" stroke="#000" stroke-width="2.2"/>
<line x1="1249.3" y1="1303.3" x2="1249.3" y2="1492.5" stroke="#000" stroke-width="2.2"/>
<line x1="1249.3" y1="1517.0" x2="1249.3" y2="1825.5" stroke="#000" stroke-width="2.2"/>
<text x="1287.4" y="1191.7" font-size="28" textLength="49.4" lengthAdjust="spacingAndGlyphs" stroke="#000" stroke-width="1.0">Bak</text>
<text x="1285.9" y="1261.8" font-size="28" textLength="50.1" lengthAdjust="spacingAndGlyphs" stroke="#000" stroke-width="1.0">Bax</text>
<text x="1278.6" y="1334.7" font-size="28" textLength="64.7" lengthAdjust="spacingAndGlyphs" stroke="#000" stroke-width="1.0">Bcl-2</text>
<text x="1268.0" y="1404.0" font-size="28" textLength="82.2" lengthAdjust="spacingAndGlyphs" stroke="#000" stroke-width="1.0">Bcl-xL</text>
<text x="1278.6" y="1474.2" font-size="28" textLength="67.0" lengthAdjust="spacingAndGlyphs" stroke="#000" stroke-width="1.0">Mcl-1</text>
<text x="1274.0" y="1543.7" font-size="28" textLength="68.4" lengthAdjust="spacingAndGlyphs" stroke="#000" stroke-width="1.0">Noxa</text>
<text x="1271.7" y="1619.5" font-size="28" textLength="76.2" lengthAdjust="spacingAndGlyphs" stroke="#000" stroke-width="1.0">Puma</text>
<text x="1284.6" y="1747.0" font-size="28" textLength="50.8" lengthAdjust="spacingAndGlyphs" stroke="#000" stroke-width="1.0">Bim</text>
<text x="1266.1" y="1875.0" font-size="28" textLength="88.7" lengthAdjust="spacingAndGlyphs" stroke="#000" stroke-width="1.0">β-actin</text>
<line x1="1904.5" y1="1191.3" x2="1925.5" y2="1191.3" stroke="#000" stroke-width="4"/>
<text x="1934.3" y="1201.8" font-size="28.5" fill="#111" textLength="28.7" lengthAdjust="spacingAndGlyphs">26</text>
<line x1="1904.5" y1="1254.9" x2="1925.5" y2="1254.9" stroke="#000" stroke-width="4"/>
<text x="1934.3" y="1268.7" font-size="28.5" fill="#111" textLength="28.7" lengthAdjust="spacingAndGlyphs">26</text>
<line x1="1904.5" y1="1325.0" x2="1925.5" y2="1325.0" stroke="#000" stroke-width="4"/>
<text x="1934.3" y="1333.2" font-size="28.5" fill="#111" textLength="28.7" lengthAdjust="spacingAndGlyphs">26</text>
<line x1="1904.5" y1="1416.4" x2="1925.5" y2="1416.4" stroke="#000" stroke-width="4"/>
<text x="1934.3" y="1422.9" font-size="28.5" fill="#111" textLength="28.7" lengthAdjust="spacingAndGlyphs">26</text>
<line x1="1904.5" y1="1445.7" x2="1925.5" y2="1445.7" stroke="#000" stroke-width="4"/>
<text x="1934.3" y="1454.6" font-size="28.5" fill="#111" textLength="28.7" lengthAdjust="spacingAndGlyphs">43</text>
<line x1="1904.5" y1="1534.8" x2="1925.5" y2="1534.8" stroke="#000" stroke-width="4"/>
<text x="1934.3" y="1546.6" font-size="28.5" fill="#111" textLength="28.7" lengthAdjust="spacingAndGlyphs">11</text>
<line x1="1904.5" y1="1605.3" x2="1925.5" y2="1605.3" stroke="#000" stroke-width="4"/>
<text x="1934.3" y="1614.8" font-size="28.5" fill="#111" textLength="28.7" lengthAdjust="spacingAndGlyphs">26</text>
<line x1="1904.5" y1="1665.4" x2="1925.5" y2="1665.4" stroke="#000" stroke-width="4"/>
<text x="1934.3" y="1669.4" font-size="28.5" fill="#111" textLength="28.7" lengthAdjust="spacingAndGlyphs">26</text>
<line x1="1904.5" y1="1754.8" x2="1925.5" y2="1754.8" stroke="#000" stroke-width="4"/>
<text x="1934.3" y="1764.0" font-size="28.5" fill="#111" textLength="28.7" lengthAdjust="spacingAndGlyphs">17</text>
<line x1="1904.5" y1="1865.1" x2="1925.5" y2="1865.1" stroke="#000" stroke-width="4"/>
<text x="1934.3" y="1874.2" font-size="28.5" fill="#111" textLength="28.7" lengthAdjust="spacingAndGlyphs">43</text>
<clipPath id="c1"><rect x="1371.3" y="1150.0" width="168.8" height="67.4"/></clipPath>
<g clip-path="url(#c1)">
<rect x="1371.3" y="1150.0" width="168.8" height="67.4" fill="#fdfdfd"/>
<rect x="1376.5" y="1167.5" width="85.0" height="28.0" rx="14.0" fill="#000" fill-opacity="0.55" filter="url(#f60)" transform="rotate(2 1419.0 1181.5)"/>
<rect x="1383.2" y="1174.2" width="71.7" height="14.7" rx="7.4" fill="#000" fill-opacity="1.0" filter="url(#f45)" transform="rotate(2 1419.0 1181.5)"/>
<rect x="1381.5" y="1173.5" width="43.0" height="16.0" rx="8.0" fill="#000" fill-opacity="0.39" filter="url(#f60)"/>
<rect x="1386.0" y="1178.0" width="34.1" height="7.1" rx="3.5" fill="#000" fill-opacity="0.7" filter="url(#f40)"/>
<rect x="1456.0" y="1179.0" width="18.0" height="14.0" rx="7.0" fill="#000" fill-opacity="0.25" filter="url(#f60)"/>
<rect x="1459.6" y="1182.6" width="10.9" height="6.9" rx="3.4" fill="#000" fill-opacity="0.45" filter="url(#f35)"/>
<rect x="1467.8" y="1174.0" width="61.0" height="27.0" rx="13.5" fill="#000" fill-opacity="0.55" filter="url(#f60)" transform="rotate(3 1498.3 1187.5)"/>
<rect x="1474.5" y="1180.7" width="47.7" height="13.7" rx="6.9" fill="#000" fill-opacity="1.0" filter="url(#f45)" transform="rotate(3 1498.3 1187.5)"/>
<rect x="1483.0" y="1180.0" width="28.0" height="14.0" rx="7.0" fill="#000" fill-opacity="0.39" filter="url(#f60)"/>
<rect x="1486.6" y="1183.6" width="20.9" height="6.9" rx="3.4" fill="#000" fill-opacity="0.7" filter="url(#f35)"/>
</g>
<rect x="1373.0" y="1151.7" width="165.5" height="64.1" fill="none" stroke="#000" stroke-width="3.3"/>
<clipPath id="c2"><rect x="1561.8" y="1150.0" width="166.8" height="67.4"/></clipPath>
<g clip-path="url(#c2)">
<rect x="1561.8" y="1150.0" width="166.8" height="67.4" fill="#f6f6f6"/>
<rect x="1565.5" y="1176.1" width="71.0" height="22.0" rx="11.0" fill="#000" fill-opacity="0.55" filter="url(#f60)"/>
<rect x="1571.0" y="1181.6" width="60.1" height="11.1" rx="5.5" fill="#000" fill-opacity="1.0" filter="url(#f40)"/>
<rect x="1638.2" y="1184.2" width="13.6" height="5.6" rx="2.8" fill="#000" fill-opacity="0.2" filter="url(#f25)"/>
<rect x="1647.3" y="1172.5" width="77.0" height="26.0" rx="13.0" fill="#000" fill-opacity="0.55" filter="url(#f60)"/>
<rect x="1654.0" y="1179.2" width="63.7" height="12.7" rx="6.4" fill="#000" fill-opacity="1.0" filter="url(#f45)"/>
<rect x="1663.5" y="1178.5" width="43.0" height="13.0" rx="6.5" fill="#000" fill-opacity="0.44" filter="url(#f60)"/>
<rect x="1666.6" y="1181.6" width="36.7" height="6.7" rx="3.4" fill="#000" fill-opacity="0.8" filter="url(#f35)"/>
</g>
<rect x="1563.5" y="1151.7" width="163.5" height="64.1" fill="none" stroke="#000" stroke-width="3.3"/>
<clipPath id="c3"><rect x="1737.4" y="1150.0" width="167.2" height="67.4"/></clipPath>
<g clip-path="url(#c3)">
<rect x="1737.4" y="1150.0" width="167.2" height="67.4" fill="#f8f8f8"/>
<rect x="1739.6" y="1179.3" width="75.0" height="22.0" rx="11.0" fill="#000" fill-opacity="0.39" filter="url(#f60)"/>
<rect x="1745.9" y="1185.6" width="62.5" height="9.4" rx="4.7" fill="#000" fill-opacity="0.7" filter="url(#f45)"/>
<rect x="1813.2" y="1185.2" width="13.6" height="5.6" rx="2.8" fill="#000" fill-opacity="0.2" filter="url(#f25)"/>
<rect x="1822.2" y="1173.5" width="73.0" height="21.0" rx="10.5" fill="#000" fill-opacity="0.30" filter="url(#f60)" transform="rotate(-12 1858.7 1184.0)"/>
<rect x="1828.3" y="1179.6" width="60.8" height="8.8" rx="4.4" fill="#000" fill-opacity="0.55" filter="url(#f45)" transform="rotate(-12 1858.7 1184.0)"/>
</g>
<rect x="1739.1" y="1151.7" width="163.9" height="64.1" fill="none" stroke="#000" stroke-width="3.3"/>
<clipPath id="c4"><rect x="1371.3" y="1220.2" width="168.8" height="67.4"/></clipPath>
<g clip-path="url(#c4)">
<rect x="1371.3" y="1220.2" width="168.8" height="67.4" fill="#fdfdfd"/>
<rect x="1384.9" y="1237.3" width="65.0" height="32.0" rx="16.0" fill="#000" fill-opacity="0.48" filter="url(#f60)"/>
<rect x="1392.4" y="1244.8" width="50.0" height="17.0" rx="8.5" fill="#000" fill-opacity="0.88" filter="url(#f50)"/>
<rect x="1454.2" y="1251.2" width="7.6" height="5.6" rx="2.8" fill="#000" fill-opacity="0.15" filter="url(#f25)"/>
<rect x="1463.3" y="1240.3" width="69.0" height="29.0" rx="14.5" fill="#000" fill-opacity="0.41" filter="url(#f60)"/>
<rect x="1470.8" y="1247.8" width="54.0" height="14.0" rx="7.0" fill="#000" fill-opacity="0.74" filter="url(#f50)"/>
</g>
<rect x="1373.0" y="1221.9" width="165.5" height="64.1" fill="none" stroke="#000" stroke-width="3.3"/>
<clipPath id="c5"><rect x="1561.8" y="1220.2" width="166.8" height="67.4"/></clipPath>
<g clip-path="url(#c5)">
<rect x="1561.8" y="1220.2" width="166.8" height="67.4" fill="#f4f4f4"/>
<rect x="1569.1" y="1240.8" width="67.0" height="25.0" rx="12.5" fill="#000" fill-opacity="0.52" filter="url(#f60)"/>
<rect x="1575.8" y="1247.5" width="53.7" height="11.7" rx="5.9" fill="#000" fill-opacity="0.95" filter="url(#f45)"/>
<rect x="1593.5" y="1246.5" width="35.0" height="15.0" rx="7.5" fill="#000" fill-opacity="0.50" filter="url(#f60)"/>
<rect x="1597.5" y="1250.5" width="27.0" height="7.0" rx="3.5" fill="#000" fill-opacity="0.9" filter="url(#f40)"/>
<rect x="1642.8" y="1243.8" width="73.0" height="19.0" rx="9.5" fill="#000" fill-opacity="0.39" filter="url(#f60)" transform="rotate(-5 1679.3 1253.3)"/>
<rect x="1648.5" y="1249.5" width="61.6" height="7.6" rx="3.8" fill="#000" fill-opacity="0.7" filter="url(#f45)" transform="rotate(-5 1679.3 1253.3)"/>
<rect x="1710.7" y="1249.7" width="10.7" height="4.7" rx="2.3" fill="#000" fill-opacity="0.15" filter="url(#f20)"/>
</g>
<rect x="1563.5" y="1221.9" width="163.5" height="64.1" fill="none" stroke="#000" stroke-width="3.3"/>
<clipPath id="c6"><rect x="1737.4" y="1220.2" width="167.2" height="67.4"/></clipPath>
<g clip-path="url(#c6)">
<rect x="1737.4" y="1220.2" width="167.2" height="67.4" fill="#f7f7f7"/>
<rect x="1747.1" y="1244.9" width="73.0" height="26.0" rx="13.0" fill="#000" fill-opacity="0.55" filter="url(#f60)"/>
<rect x="1753.8" y="1251.6" width="59.7" height="12.7" rx="6.4" fill="#000" fill-opacity="1.0" filter="url(#f45)"/>
<rect x="1768.5" y="1251.5" width="43.0" height="15.0" rx="7.5" fill="#000" fill-opacity="0.50" filter="url(#f60)"/>
<rect x="1772.5" y="1255.5" width="35.0" height="7.0" rx="3.5" fill="#000" fill-opacity="0.9" filter="url(#f40)"/>
<rect x="1830.7" y="1244.1" width="69.0" height="23.0" rx="11.5" fill="#000" fill-opacity="0.33" filter="url(#f60)"/>
<rect x="1838.0" y="1251.4" width="54.4" height="8.4" rx="4.2" fill="#000" fill-opacity="0.6" filter="url(#f50)"/>
</g>
<rect x="1739.1" y="1221.9" width="163.9" height="64.1" fill="none" stroke="#000" stroke-width="3.3"/>
<clipPath id="c7"><rect x="1371.3" y="1292.1" width="168.8" height="65.3"/></clipPath>
<g clip-path="url(#c7)">
<rect x="1371.3" y="1292.1" width="168.8" height="65.3" fill="#fdfdfd"/>
<rect x="1385.7" y="1309.9" width="75.0" height="25.0" rx="12.5" fill="#000" fill-opacity="0.26" filter="url(#f60)"/>
<rect x="1393.2" y="1317.4" width="60.0" height="10.0" rx="5.0" fill="#000" fill-opacity="0.48" filter="url(#f50)"/>
<rect x="1474.2" y="1310.5" width="61.0" height="27.0" rx="13.5" fill="#000" fill-opacity="0.55" filter="url(#f60)"/>
<rect x="1481.7" y="1318.0" width="46.0" height="12.0" rx="6.0" fill="#000" fill-opacity="1.0" filter="url(#f50)"/>
</g>
<rect x="1373.0" y="1293.8" width="165.5" height="62.0" fill="none" stroke="#000" stroke-width="3.3"/>
<clipPath id="c8"><rect x="1561.8" y="1292.1" width="164.4" height="65.3"/></clipPath>
<g clip-path="url(#c8)">
<rect x="1561.8" y="1292.1" width="164.4" height="65.3" fill="#f4f4f4"/>
<rect x="1571.6" y="1317.6" width="75.0" height="24.0" rx="12.0" fill="#000" fill-opacity="0.55" filter="url(#f60)"/>
<rect x="1578.2" y="1324.2" width="61.7" height="10.7" rx="5.4" fill="#000" fill-opacity="1.0" filter="url(#f45)"/>
<rect x="1643.2" y="1326.7" width="9.6" height="5.6" rx="2.8" fill="#000" fill-opacity="0.2" filter="url(#f25)"/>
<rect x="1652.9" y="1317.9" width="69.0" height="22.0" rx="11.0" fill="#000" fill-opacity="0.54" filter="url(#f60)"/>
<rect x="1659.2" y="1324.2" width="56.5" height="9.4" rx="4.7" fill="#000" fill-opacity="0.98" filter="url(#f45)"/>
</g>
<rect x="1563.5" y="1293.8" width="161.1" height="62.0" fill="none" stroke="#000" stroke-width="3.3"/>
<clipPath id="c9"><rect x="1737.4" y="1292.1" width="167.2" height="65.3"/></clipPath>
<g clip-path="url(#c9)">
<rect x="1737.4" y="1292.1" width="167.2" height="65.3" fill="#f6f6f6"/>
<rect x="1740.2" y="1314.2" width="77.0" height="23.0" rx="11.5" fill="#000" fill-opacity="0.55" filter="url(#f60)"/>
<rect x="1746.7" y="1320.7" width="64.1" height="10.1" rx="5.0" fill="#000" fill-opacity="1.0" filter="url(#f45)"/>
<rect x="1804.0" y="1320.0" width="28.0" height="12.0" rx="6.0" fill="#000" fill-opacity="0.30" filter="url(#f60)"/>
<rect x="1806.7" y="1322.7" width="22.5" height="6.5" rx="3.3" fill="#000" fill-opacity="0.55" filter="url(#f30)"/>
<rect x="1823.2" y="1310.9" width="71.0" height="23.0" rx="11.5" fill="#000" fill-opacity="0.55" filter="url(#f60)" transform="rotate(-8 1858.7 1322.4)"/>
<rect x="1829.7" y="1317.4" width="58.1" height="10.1" rx="5.0" fill="#000" fill-opacity="1.0" filter="url(#f45)" transform="rotate(-8 1858.7 1322.4)"/>
</g>
<rect x="1739.1" y="1293.8" width="163.9" height="62.0" fill="none" stroke="#000" stroke-width="3.3"/>
<clipPath id="c10"><rect x="1371.3" y="1363.9" width="168.8" height="65.1"/></clipPath>
<g clip-path="url(#c10)">
<rect x="1371.3" y="1363.9" width="168.8" height="65.1" fill="#fdfdfd"/>
<rect x="1383.5" y="1377.4" width="63.0" height="40.0" rx="20.0" fill="#000" fill-opacity="0.29" filter="url(#f60)"/>
<rect x="1391.8" y="1385.8" width="46.3" height="23.3" rx="5.0" fill="#000" fill-opacity="0.52" filter="url(#f55)"/>
<rect x="1452.9" y="1372.2" width="71.0" height="44.0" rx="22.0" fill="#000" fill-opacity="0.55" filter="url(#f60)"/>
<rect x="1460.4" y="1379.7" width="56.0" height="29.0" rx="8.0" fill="#000" fill-opacity="1.0" filter="url(#f50)"/>
<rect x="1461.5" y="1380.0" width="53.0" height="28.0" rx="14.0" fill="#000" fill-opacity="0.55" filter="url(#f60)"/>
<rect x="1467.3" y="1385.8" width="41.4" height="16.4" rx="6.0" fill="#000" fill-opacity="1.0" filter="url(#f40)"/>
</g>
<rect x="1373.0" y="1365.6" width="165.5" height="61.8" fill="none" stroke="#000" stroke-width="3.3"/>
<clipPath id="c11"><rect x="1561.8" y="1363.9" width="164.4" height="65.1"/></clipPath>
<g clip-path="url(#c11)">
<rect x="1561.8" y="1363.9" width="164.4" height="65.1" fill="#f4f4f4"/>
<rect x="1564.2" y="1376.8" width="67.0" height="38.0" rx="19.0" fill="#000" fill-opacity="0.25" filter="url(#f60)"/>
<rect x="1572.5" y="1385.1" width="50.3" height="21.3" rx="4.0" fill="#000" fill-opacity="0.46" filter="url(#f55)"/>
<rect x="1652.3" y="1378.4" width="67.0" height="38.0" rx="19.0" fill="#000" fill-opacity="0.24" filter="url(#f60)"/>
<rect x="1660.6" y="1386.8" width="50.3" height="21.3" rx="4.0" fill="#000" fill-opacity="0.43" filter="url(#f55)"/>
</g>
<rect x="1563.5" y="1365.6" width="161.1" height="61.8" fill="none" stroke="#000" stroke-width="3.3"/>
<clipPath id="c12"><rect x="1737.4" y="1363.9" width="167.2" height="65.1"/></clipPath>
<g clip-path="url(#c12)">
<rect x="1737.4" y="1363.9" width="167.2" height="65.1" fill="#fdfdfd"/>
<rect x="1746.2" y="1375.2" width="65.0" height="38.0" rx="19.0" fill="#000" fill-opacity="0.55" filter="url(#f60)"/>
<rect x="1753.7" y="1382.7" width="50.0" height="23.0" rx="7.0" fill="#000" fill-opacity="1.0" filter="url(#f50)"/>
<rect x="1758.5" y="1383.0" width="43.0" height="22.0" rx="11.0" fill="#000" fill-opacity="0.55" filter="url(#f60)"/>
<rect x="1764.0" y="1388.5" width="32.1" height="11.1" rx="5.0" fill="#000" fill-opacity="1.0" filter="url(#f40)"/>
<rect x="1830.1" y="1376.8" width="67.0" height="38.0" rx="19.0" fill="#000" fill-opacity="0.55" filter="url(#f60)"/>
<rect x="1837.6" y="1384.3" width="52.0" height="23.0" rx="7.0" fill="#000" fill-opacity="1.0" filter="url(#f50)"/>
<rect x="1842.5" y="1386.0" width="43.0" height="20.0" rx="10.0" fill="#000" fill-opacity="0.50" filter="url(#f60)"/>
<rect x="1847.6" y="1391.1" width="32.7" height="9.7" rx="5.0" fill="#000" fill-opacity="0.9" filter="url(#f40)"/>
</g>
<rect x="1739.1" y="1365.6" width="163.9" height="61.8" fill="none" stroke="#000" stroke-width="3.3"/>
<clipPath id="c13"><rect x="1371.3" y="1433.7" width="168.8" height="64.9"/></clipPath>
<g clip-path="url(#c13)">
<rect x="1371.3" y="1433.7" width="168.8" height="64.9" fill="#fdfdfd"/>
<rect x="1375.9" y="1454.0" width="75.0" height="14.0" rx="7.0" fill="#000" fill-opacity="0.34" filter="url(#f60)"/>
<rect x="1379.5" y="1457.6" width="67.9" height="6.9" rx="3.4" fill="#000" fill-opacity="0.62" filter="url(#f35)"/>
<rect x="1414.0" y="1457.0" width="28.0" height="13.0" rx="6.5" fill="#000" fill-opacity="0.28" filter="url(#f60)"/>
<rect x="1417.1" y="1460.1" width="21.7" height="6.7" rx="3.4" fill="#000" fill-opacity="0.5" filter="url(#f35)"/>
<rect x="1379.0" y="1454.5" width="18.0" height="10.0" rx="5.0" fill="#000" fill-opacity="0.17" filter="url(#f60)"/>
<rect x="1381.2" y="1456.7" width="13.6" height="5.6" rx="2.8" fill="#000" fill-opacity="0.3" filter="url(#f25)"/>
<rect x="1467.7" y="1459.0" width="61.0" height="19.0" rx="9.5" fill="#000" fill-opacity="0.31" filter="url(#f60)"/>
<rect x="1473.4" y="1464.7" width="49.6" height="7.6" rx="3.8" fill="#000" fill-opacity="0.56" filter="url(#f45)"/>
</g>
<rect x="1373.0" y="1435.4" width="165.5" height="61.6" fill="none" stroke="#000" stroke-width="3.3"/>
<clipPath id="c14"><rect x="1561.8" y="1433.7" width="164.4" height="64.9"/></clipPath>
<g clip-path="url(#c14)">
<rect x="1561.8" y="1433.7" width="164.4" height="64.9" fill="#f8f8f8"/>
<rect x="1566.5" y="1462.5" width="69.0" height="12.0" rx="6.0" fill="#000" fill-opacity="0.47" filter="url(#f60)"/>
<rect x="1569.2" y="1465.2" width="63.5" height="6.5" rx="3.3" fill="#000" fill-opacity="0.85" filter="url(#f30)"/>
<rect x="1592.5" y="1463.5" width="35.0" height="10.0" rx="5.0" fill="#000" fill-opacity="0.50" filter="url(#f60)"/>
<rect x="1594.7" y="1465.7" width="30.6" height="5.6" rx="2.8" fill="#000" fill-opacity="0.9" filter="url(#f25)"/>
<rect x="1647.6" y="1458.0" width="73.0" height="21.0" rx="10.5" fill="#000" fill-opacity="0.55" filter="url(#f60)"/>
<rect x="1652.1" y="1462.5" width="64.0" height="12.0" rx="6.0" fill="#000" fill-opacity="1.0" filter="url(#f35)"/>
<rect x="1661.9" y="1481.4" width="52.1" height="7.1" rx="3.6" fill="#000" fill-opacity="0.15" filter="url(#f45)"/>
</g>
<rect x="1563.5" y="1435.4" width="161.1" height="61.6" fill="none" stroke="#000" stroke-width="3.3"/>
<clipPath id="c15"><rect x="1737.4" y="1433.7" width="167.2" height="64.9"/></clipPath>
<g clip-path="url(#c15)">
<rect x="1737.4" y="1433.7" width="167.2" height="64.9" fill="#fdfdfd"/>
<rect x="1743.0" y="1460.6" width="65.0" height="12.0" rx="6.0" fill="#000" fill-opacity="0.47" filter="url(#f60)"/>
<rect x="1745.7" y="1463.3" width="59.5" height="6.5" rx="3.3" fill="#000" fill-opacity="0.85" filter="url(#f30)"/>
<rect x="1822.8" y="1448.8" width="75.0" height="31.0" rx="15.5" fill="#000" fill-opacity="0.55" filter="url(#f60)"/>
<rect x="1828.6" y="1454.6" width="63.4" height="19.4" rx="9.7" fill="#000" fill-opacity="1.0" filter="url(#f40)"/>
<rect x="1829.5" y="1454.8" width="61.0" height="19.0" rx="9.5" fill="#000" fill-opacity="0.55" filter="url(#f60)"/>
<rect x="1833.0" y="1458.3" width="54.0" height="12.1" rx="6.0" fill="#000" fill-opacity="1.0" filter="url(#f30)"/>
</g>
<rect x="1739.1" y="1435.4" width="163.9" height="61.6" fill="none" stroke="#000" stroke-width="3.3"/>
<clipPath id="c16"><rect x="1371.3" y="1506.0" width="168.8" height="65.0"/></clipPath>
<g clip-path="url(#c16)">
<rect x="1371.3" y="1506.0" width="168.8" height="65.0" fill="#d0d0d0"/>
<ellipse cx="1520.0" cy="1520.0" rx="40.0" ry="26.0" fill="#000" fill-opacity="0.4" filter="url(#f120)"/>
<ellipse cx="1535.0" cy="1560.0" rx="14.0" ry="26.0" fill="#000" fill-opacity="0.45" filter="url(#f80)"/>
<ellipse cx="1400.0" cy="1515.0" rx="40.0" ry="12.0" fill="#000" fill-opacity="0.2" filter="url(#f100)"/>
<ellipse cx="1470.0" cy="1535.0" rx="30.0" ry="30.0" fill="#fff" fill-opacity="0.2" filter="url(#f100)"/>
<ellipse cx="1410.0" cy="1560.0" rx="40.0" ry="10.0" fill="#fff" fill-opacity="0.3" filter="url(#f80)"/>
<ellipse cx="1455.0" cy="1568.0" rx="80.0" ry="5.0" fill="#000" fill-opacity="0.25" filter="url(#f40)"/>
<rect x="1371.3" y="1506.0" width="168.8" height="65.0" filter="url(#nz3)" opacity="0.26"/>
<rect x="1368.9" y="1535.7" width="172.1" height="2.1" rx="1.0" fill="#000" fill-opacity="0.22" filter="url(#f10)"/>
<rect x="1380.8" y="1533.3" width="75.0" height="7.0" rx="3.5" fill="#000" fill-opacity="0.29" filter="url(#f60)"/>
<rect x="1382.2" y="1534.7" width="72.2" height="4.2" rx="3.0" fill="#000" fill-opacity="0.72" filter="url(#f20)"/>
</g>
<rect x="1373.0" y="1507.7" width="165.5" height="61.7" fill="none" stroke="#000" stroke-width="3.3"/>
<clipPath id="c17"><rect x="1561.8" y="1506.0" width="164.4" height="65.0"/></clipPath>
<g clip-path="url(#c17)">
<rect x="1561.8" y="1506.0" width="164.4" height="65.0" fill="#d9d9d9"/>
<ellipse cx="1575.0" cy="1530.0" rx="28.0" ry="40.0" fill="#000" fill-opacity="0.5" filter="url(#f100)"/>
<ellipse cx="1590.0" cy="1560.0" rx="30.0" ry="12.0" fill="#000" fill-opacity="0.3" filter="url(#f80)"/>
<ellipse cx="1690.0" cy="1535.0" rx="60.0" ry="30.0" fill="#fff" fill-opacity="0.3" filter="url(#f120)"/>
<ellipse cx="1640.0" cy="1566.0" rx="90.0" ry="4.0" fill="#000" fill-opacity="0.3" filter="url(#f40)"/>
<ellipse cx="1610.0" cy="1515.0" rx="8.0" ry="14.0" fill="#fff" fill-opacity="0.35" filter="url(#f40)"/>
<rect x="1561.8" y="1506.0" width="165.5" height="65.0" filter="url(#nz5)" opacity="0.13"/>
<rect x="1583.9" y="1535.8" width="152.1" height="1.5" rx="1.0" fill="#000" fill-opacity="0.2" filter="url(#f10)"/>
<rect x="1559.5" y="1533.3" width="83.0" height="7.0" rx="3.5" fill="#000" fill-opacity="0.34" filter="url(#f60)"/>
<rect x="1560.9" y="1534.7" width="80.2" height="4.2" rx="3.0" fill="#000" fill-opacity="0.85" filter="url(#f20)"/>
<rect x="1560.5" y="1532.0" width="39.0" height="9.0" rx="4.5" fill="#000" fill-opacity="0.36" filter="url(#f60)"/>
<rect x="1562.4" y="1533.9" width="35.1" height="5.1" rx="3.0" fill="#000" fill-opacity="0.9" filter="url(#f25)"/>
</g>
<rect x="1563.5" y="1507.7" width="161.1" height="61.7" fill="none" stroke="#000" stroke-width="3.3"/>
<clipPath id="c18"><rect x="1737.4" y="1506.0" width="167.2" height="65.0"/></clipPath>
<g clip-path="url(#c18)">
<rect x="1737.4" y="1506.0" width="167.2" height="65.0" fill="#c9c9c9"/>
<ellipse cx="1895.0" cy="1560.0" rx="26.0" ry="30.0" fill="#000" fill-opacity="0.85" filter="url(#f100)"/>
<ellipse cx="1870.0" cy="1525.0" rx="40.0" ry="30.0" fill="#000" fill-opacity="0.4" filter="url(#f120)"/>
<ellipse cx="1800.0" cy="1566.0" rx="60.0" ry="8.0" fill="#000" fill-opacity="0.4" filter="url(#f70)"/>
<ellipse cx="1745.0" cy="1530.0" rx="10.0" ry="40.0" fill="#000" fill-opacity="0.3" filter="url(#f80)"/>
<ellipse cx="1790.0" cy="1518.0" rx="26.0" ry="22.0" fill="#fff" fill-opacity="0.7" filter="url(#f100)"/>
<ellipse cx="1800.0" cy="1552.0" rx="30.0" ry="8.0" fill="#fff" fill-opacity="0.3" filter="url(#f70)"/>
<rect x="1737.4" y="1506.0" width="167.2" height="65.0" filter="url(#nz9)" opacity="0.1"/>
<rect x="1793.9" y="1538.2" width="112.1" height="1.5" rx="1.0" fill="#000" fill-opacity="0.28" filter="url(#f10)"/>
<rect x="1749.7" y="1535.5" width="81.0" height="7.0" rx="3.5" fill="#000" fill-opacity="0.35" filter="url(#f60)"/>
<rect x="1751.1" y="1536.9" width="78.2" height="4.2" rx="3.0" fill="#000" fill-opacity="0.88" filter="url(#f20)"/>
</g>
<rect x="1739.1" y="1507.7" width="163.9" height="61.7" fill="none" stroke="#000" stroke-width="3.3"/>
<clipPath id="c19"><rect x="1371.3" y="1576.2" width="168.8" height="66.6"/></clipPath>
<g clip-path="url(#c19)">
<rect x="1371.3" y="1576.2" width="168.8" height="66.6" fill="#fdfdfd"/>
<rect x="1377.0" y="1597.3" width="63.0" height="25.0" rx="12.5" fill="#000" fill-opacity="0.40" filter="url(#f60)"/>
<rect x="1384.5" y="1604.8" width="48.0" height="10.0" rx="5.0" fill="#000" fill-opacity="0.72" filter="url(#f50)"/>
<rect x="1388.7" y="1604.7" width="22.5" height="6.5" rx="4.0" fill="#000" fill-opacity="0.4" filter="url(#f30)"/>
<rect x="1490.7" y="1605.9" width="24.8" height="7.8" rx="4.0" fill="#000" fill-opacity="0.26" filter="url(#f50)"/>
</g>
<rect x="1373.0" y="1577.9" width="165.5" height="63.3" fill="none" stroke="#000" stroke-width="3.3"/>
<clipPath id="c20"><rect x="1561.8" y="1576.2" width="164.4" height="66.6"/></clipPath>
<g clip-path="url(#c20)">
<rect x="1561.8" y="1576.2" width="164.4" height="66.6" fill="#fdfdfd"/>
<rect x="1587.1" y="1595.3" width="59.0" height="31.0" rx="15.5" fill="#000" fill-opacity="0.55" filter="url(#f60)"/>
<rect x="1592.0" y="1600.2" width="49.1" height="21.1" rx="10.6" fill="#000" fill-opacity="1.0" filter="url(#f35)"/>
<rect x="1593.1" y="1600.8" width="47.0" height="20.0" rx="10.0" fill="#000" fill-opacity="0.55" filter="url(#f60)"/>
<rect x="1596.7" y="1604.4" width="39.8" height="12.8" rx="6.4" fill="#000" fill-opacity="1.0" filter="url(#f30)"/>
<rect x="1664.5" y="1600.8" width="49.0" height="18.0" rx="9.0" fill="#000" fill-opacity="0.55" filter="url(#f60)"/>
<rect x="1668.6" y="1604.9" width="40.9" height="9.8" rx="4.9" fill="#000" fill-opacity="1.0" filter="url(#f35)"/>
<rect x="1675.0" y="1606.0" width="28.0" height="8.0" rx="4.0" fill="#000" fill-opacity="0.55" filter="url(#f60)"/>
<rect x="1676.7" y="1607.7" width="24.7" height="4.7" rx="2.3" fill="#000" fill-opacity="1.0" filter="url(#f20)"/>
</g>
<rect x="1563.5" y="1577.9" width="161.1" height="63.3" fill="none" stroke="#000" stroke-width="3.3"/>
<clipPath id="c21"><rect x="1737.4" y="1576.2" width="167.2" height="66.6"/></clipPath>
<g clip-path="url(#c21)">
<rect x="1737.4" y="1576.2" width="167.2" height="66.6" fill="#fdfdfd"/>
<rect x="1753.5" y="1601.3" width="57.0" height="17.0" rx="8.5" fill="#000" fill-opacity="0.14" filter="url(#f60)"/>
<rect x="1758.4" y="1606.2" width="47.1" height="7.1" rx="3.0" fill="#000" fill-opacity="0.45" filter="url(#f40)"/>
<rect x="1847.0" y="1609.0" width="42.7" height="6.7" rx="3.0" fill="#000" fill-opacity="0.13" filter="url(#f35)"/>
</g>
<rect x="1739.1" y="1577.9" width="163.9" height="63.3" fill="none" stroke="#000" stroke-width="3.3"/>
<clipPath id="c22"><rect x="1371.3" y="1650.0" width="168.8" height="177.6"/></clipPath>
<g clip-path="url(#c22)">
<rect x="1371.3" y="1650.0" width="168.8" height="177.6" fill="#fdfdfd"/>
<rect x="1383.1" y="1663.5" width="69.0" height="30.0" rx="15.0" fill="#000" fill-opacity="0.55" filter="url(#f60)"/>
<rect x="1388.9" y="1669.3" width="57.4" height="18.4" rx="9.2" fill="#000" fill-opacity="1.0" filter="url(#f40)"/>
<rect x="1389.1" y="1669.5" width="57.0" height="18.0" rx="9.0" fill="#000" fill-opacity="0.55" filter="url(#f60)"/>
<rect x="1392.4" y="1672.8" width="50.3" height="11.3" rx="5.7" fill="#000" fill-opacity="1.0" filter="url(#f30)"/>
<rect x="1394.0" y="1703.5" width="46.0" height="7.0" rx="4.0" fill="#000" fill-opacity="0.16" filter="url(#f50)"/>
<rect x="1379.5" y="1745.3" width="71.0" height="21.0" rx="10.5" fill="#000" fill-opacity="0.50" filter="url(#f60)"/>
<rect x="1385.6" y="1751.4" width="58.8" height="8.8" rx="4.4" fill="#000" fill-opacity="0.9" filter="url(#f45)"/>
<rect x="1375.3" y="1796.2" width="73.0" height="17.0" rx="8.5" fill="#000" fill-opacity="0.55" filter="url(#f60)"/>
<rect x="1379.2" y="1800.1" width="65.1" height="9.1" rx="4.6" fill="#000" fill-opacity="1.0" filter="url(#f35)"/>
<rect x="1383.5" y="1800.0" width="43.0" height="8.0" rx="4.0" fill="#000" fill-opacity="0.44" filter="url(#f60)"/>
<rect x="1385.2" y="1801.7" width="39.7" height="4.7" rx="2.3" fill="#000" fill-opacity="0.8" filter="url(#f20)"/>
<rect x="1464.7" y="1667.0" width="67.0" height="21.0" rx="10.5" fill="#000" fill-opacity="0.47" filter="url(#f60)"/>
<rect x="1470.8" y="1673.1" width="54.8" height="8.8" rx="4.4" fill="#000" fill-opacity="0.85" filter="url(#f45)"/>
<rect x="1463.5" y="1750.5" width="63.0" height="17.0" rx="8.5" fill="#000" fill-opacity="0.11" filter="url(#f60)"/>
<rect x="1468.4" y="1755.4" width="53.1" height="7.1" rx="3.0" fill="#000" fill-opacity="0.36" filter="url(#f40)"/>
<rect x="1458.8" y="1800.0" width="69.0" height="14.0" rx="7.0" fill="#000" fill-opacity="0.37" filter="url(#f60)"/>
<rect x="1462.4" y="1803.6" width="61.9" height="6.9" rx="3.4" fill="#000" fill-opacity="0.68" filter="url(#f35)"/>
</g>
<rect x="1373.0" y="1651.7" width="165.5" height="174.3" fill="none" stroke="#000" stroke-width="3.3"/>
<clipPath id="c23"><rect x="1561.8" y="1650.0" width="166.8" height="177.6"/></clipPath>
<g clip-path="url(#c23)">
<rect x="1561.8" y="1650.0" width="166.8" height="177.6" fill="#fdfdfd"/>
<rect x="1567.5" y="1666.0" width="67.0" height="12.0" rx="6.0" fill="#000" fill-opacity="0.52" filter="url(#f60)"/>
<rect x="1570.1" y="1668.6" width="61.8" height="6.8" rx="3.4" fill="#000" fill-opacity="0.95" filter="url(#f30)"/>
<rect x="1566.5" y="1674.5" width="65.0" height="14.0" rx="7.0" fill="#000" fill-opacity="0.55" filter="url(#f60)"/>
<rect x="1569.3" y="1677.3" width="59.3" height="8.3" rx="4.2" fill="#000" fill-opacity="1.0" filter="url(#f30)"/>
<rect x="1573.0" y="1670.5" width="54.0" height="13.0" rx="5.0" fill="#000" fill-opacity="0.5" filter="url(#f50)"/>
<rect x="1565.2" y="1657.7" width="59.7" height="4.7" rx="3.0" fill="#000" fill-opacity="0.25" filter="url(#f20)"/>
<rect x="1567.9" y="1705.9" width="33.5" height="6.5" rx="3.0" fill="#000" fill-opacity="0.22" filter="url(#f30)"/>
<rect x="1620.1" y="1714.1" width="11.7" height="3.7" rx="3.0" fill="#000" fill-opacity="0.15" filter="url(#f20)"/>
<rect x="1569.6" y="1761.2" width="56.2" height="4.2" rx="2.0" fill="#000" fill-opacity="0.25" filter="url(#f20)"/>
<rect x="1560.2" y="1775.7" width="79.7" height="4.7" rx="3.0" fill="#000" fill-opacity="0.12" filter="url(#f20)"/>
<rect x="1564.5" y="1782.8" width="73.0" height="34.0" rx="17.0" fill="#000" fill-opacity="0.52" filter="url(#f60)"/>
<rect x="1572.8" y="1791.1" width="56.3" height="17.3" rx="8.7" fill="#000" fill-opacity="0.95" filter="url(#f55)"/>
<rect x="1579.4" y="1671.9" width="131.2" height="136.2" rx="5.0" fill="#000" fill-opacity="0.03" filter="url(#f70)"/>
<rect x="1648.0" y="1669.8" width="69.0" height="9.0" rx="4.5" fill="#000" fill-opacity="0.20" filter="url(#f60)"/>
<rect x="1649.9" y="1671.7" width="65.1" height="5.1" rx="3.0" fill="#000" fill-opacity="0.66" filter="url(#f25)"/>
<rect x="1648.5" y="1677.5" width="65.0" height="9.0" rx="4.5" fill="#000" fill-opacity="0.19" filter="url(#f60)"/>
<rect x="1650.4" y="1679.4" width="61.1" height="5.1" rx="3.0" fill="#000" fill-opacity="0.62" filter="url(#f25)"/>
<rect x="1646.0" y="1704.6" width="73.0" height="13.0" rx="6.5" fill="#000" fill-opacity="0.41" filter="url(#f60)"/>
<rect x="1649.1" y="1707.7" width="66.7" height="6.7" rx="3.4" fill="#000" fill-opacity="0.75" filter="url(#f35)"/>
<rect x="1661.6" y="1766.1" width="56.7" height="3.7" rx="2.0" fill="#000" fill-opacity="0.16" filter="url(#f20)"/>
<rect x="1652.5" y="1778.6" width="73.0" height="36.0" rx="18.0" fill="#000" fill-opacity="0.21" filter="url(#f60)"/>
<rect x="1662.5" y="1788.6" width="52.9" height="15.9" rx="8.0" fill="#000" fill-opacity="0.42" filter="url(#f65)"/>
</g>
<rect x="1563.5" y="1651.7" width="163.5" height="174.3" fill="none" stroke="#000" stroke-width="3.3"/>
<clipPath id="c24"><rect x="1737.4" y="1650.0" width="167.2" height="177.6"/></clipPath>
<g clip-path="url(#c24)">
<rect x="1737.4" y="1650.0" width="167.2" height="177.6" fill="#fdfdfd"/>
<rect x="1739.7" y="1673.5" width="65.0" height="12.0" rx="6.0" fill="#000" fill-opacity="0.55" filter="url(#f60)"/>
<rect x="1742.3" y="1676.1" width="59.8" height="6.8" rx="3.4" fill="#000" fill-opacity="1.0" filter="url(#f30)"/>
<rect x="1743.5" y="1683.0" width="63.0" height="13.0" rx="6.5" fill="#000" fill-opacity="0.55" filter="url(#f60)"/>
<rect x="1746.2" y="1685.7" width="57.5" height="7.5" rx="3.8" fill="#000" fill-opacity="1.0" filter="url(#f30)"/>
<rect x="1747.0" y="1679.5" width="54.0" height="9.0" rx="5.0" fill="#000" fill-opacity="0.4" filter="url(#f50)"/>
<rect x="1742.1" y="1712.5" width="57.0" height="15.0" rx="7.5" fill="#000" fill-opacity="0.10" filter="url(#f60)"/>
<rect x="1746.1" y="1716.5" width="49.0" height="7.0" rx="4.0" fill="#000" fill-opacity="0.34" filter="url(#f40)"/>
<rect x="1740.2" y="1783.0" width="77.0" height="26.0" rx="13.0" fill="#000" fill-opacity="0.55" filter="url(#f60)"/>
<rect x="1746.9" y="1789.7" width="63.7" height="12.7" rx="6.4" fill="#000" fill-opacity="1.0" filter="url(#f45)"/>
<rect x="1749.5" y="1790.0" width="53.0" height="12.0" rx="6.0" fill="#000" fill-opacity="0.44" filter="url(#f60)"/>
<rect x="1752.1" y="1792.6" width="47.8" height="6.8" rx="3.4" fill="#000" fill-opacity="0.8" filter="url(#f30)"/>
<rect x="1741.4" y="1779.4" width="77.3" height="3.3" rx="2.0" fill="#000" fill-opacity="0.16" filter="url(#f15)"/>
<rect x="1823.9" y="1671.4" width="63.0" height="22.0" rx="11.0" fill="#000" fill-opacity="0.14" filter="url(#f60)" transform="rotate(-8 1855.4 1682.4)"/>
<rect x="1831.5" y="1679.0" width="47.8" height="6.8" rx="5.0" fill="#000" fill-opacity="0.34" filter="url(#f55)" transform="rotate(-8 1855.4 1682.4)"/>
<rect x="1837.2" y="1769.4" width="43.0" height="12.0" rx="6.0" fill="#000" fill-opacity="0.17" filter="url(#f60)"/>
<rect x="1839.9" y="1772.1" width="37.5" height="6.5" rx="3.0" fill="#000" fill-opacity="0.55" filter="url(#f30)"/>
<rect x="1828.2" y="1787.2" width="61.0" height="24.0" rx="12.0" fill="#000" fill-opacity="0.48" filter="url(#f60)"/>
<rect x="1834.9" y="1793.9" width="47.7" height="10.7" rx="5.4" fill="#000" fill-opacity="0.88" filter="url(#f45)"/>
</g>
<rect x="1739.1" y="1651.7" width="163.9" height="174.3" fill="none" stroke="#000" stroke-width="3.3"/>
<clipPath id="c25"><rect x="1371.3" y="1832.7" width="168.8" height="64.6"/></clipPath>
<g clip-path="url(#c25)">
<rect x="1371.3" y="1832.7" width="168.8" height="64.6" fill="#fdfdfd"/>
<rect x="1381.5" y="1851.3" width="77.0" height="22.0" rx="11.0" fill="#000" fill-opacity="0.55" filter="url(#f60)"/>
<rect x="1386.2" y="1856.0" width="67.7" height="12.7" rx="6.3" fill="#000" fill-opacity="1.0" filter="url(#f35)"/>
<rect x="1388.5" y="1857.5" width="63.0" height="12.0" rx="6.0" fill="#000" fill-opacity="0.55" filter="url(#f60)"/>
<rect x="1390.5" y="1859.5" width="59.0" height="8.0" rx="4.0" fill="#000" fill-opacity="1.0" filter="url(#f25)"/>
<rect x="1454.8" y="1852.7" width="77.0" height="18.0" rx="9.0" fill="#000" fill-opacity="0.55" filter="url(#f60)"/>
<rect x="1458.9" y="1856.8" width="68.8" height="9.8" rx="4.9" fill="#000" fill-opacity="1.0" filter="url(#f35)"/>
<rect x="1458.5" y="1857.0" width="63.0" height="9.0" rx="4.5" fill="#000" fill-opacity="0.55" filter="url(#f60)"/>
<rect x="1460.4" y="1858.9" width="59.1" height="5.1" rx="2.6" fill="#000" fill-opacity="1.0" filter="url(#f25)"/>
<rect x="1442.0" y="1856.0" width="28.0" height="11.0" rx="5.5" fill="#000" fill-opacity="0.55" filter="url(#f60)"/>
<rect x="1444.5" y="1858.5" width="23.1" height="6.1" rx="3.0" fill="#000" fill-opacity="1.0" filter="url(#f30)"/>
</g>
<rect x="1373.0" y="1834.4" width="165.5" height="61.3" fill="none" stroke="#000" stroke-width="3.3"/>
<clipPath id="c26"><rect x="1561.8" y="1832.7" width="164.4" height="64.6"/></clipPath>
<g clip-path="url(#c26)">
<rect x="1561.8" y="1832.7" width="164.4" height="64.6" fill="#f6f6f6"/>
<rect x="1563.5" y="1851.2" width="75.0" height="18.0" rx="9.0" fill="#000" fill-opacity="0.55" filter="url(#f60)" transform="rotate(4 1601.0 1860.2)"/>
<rect x="1567.6" y="1855.3" width="66.8" height="9.8" rx="4.9" fill="#000" fill-opacity="1.0" filter="url(#f35)" transform="rotate(4 1601.0 1860.2)"/>
<rect x="1570.5" y="1856.0" width="61.0" height="9.0" rx="4.5" fill="#000" fill-opacity="0.55" filter="url(#f60)" transform="rotate(4 1601.0 1860.5)"/>
<rect x="1572.4" y="1857.9" width="57.1" height="5.1" rx="2.6" fill="#000" fill-opacity="1.0" filter="url(#f25)" transform="rotate(4 1601.0 1860.5)"/>
<rect x="1640.8" y="1853.9" width="77.0" height="19.0" rx="9.5" fill="#000" fill-opacity="0.55" filter="url(#f60)" transform="rotate(-3 1679.3 1863.4)"/>
<rect x="1645.0" y="1858.1" width="68.6" height="10.6" rx="5.3" fill="#000" fill-opacity="1.0" filter="url(#f35)" transform="rotate(-3 1679.3 1863.4)"/>
<rect x="1648.5" y="1858.4" width="63.0" height="10.0" rx="5.0" fill="#000" fill-opacity="0.55" filter="url(#f60)" transform="rotate(-3 1680.0 1863.4)"/>
<rect x="1650.5" y="1860.4" width="59.0" height="6.0" rx="3.0" fill="#000" fill-opacity="1.0" filter="url(#f25)" transform="rotate(-3 1680.0 1863.4)"/>
</g>
<rect x="1563.5" y="1834.4" width="161.1" height="61.3" fill="none" stroke="#000" stroke-width="3.3"/>
<clipPath id="c27"><rect x="1737.4" y="1832.7" width="167.2" height="64.6"/></clipPath>
<g clip-path="url(#c27)">
<rect x="1737.4" y="1832.7" width="167.2" height="64.6" fill="#f8f8f8"/>
<rect x="1741.2" y="1855.9" width="75.0" height="17.0" rx="8.5" fill="#000" fill-opacity="0.55" filter="url(#f60)"/>
<rect x="1745.1" y="1859.8" width="67.1" height="9.1" rx="4.6" fill="#000" fill-opacity="1.0" filter="url(#f35)"/>
<rect x="1748.2" y="1859.9" width="61.0" height="9.0" rx="4.5" fill="#000" fill-opacity="0.55" filter="url(#f60)"/>
<rect x="1750.1" y="1861.8" width="57.1" height="5.1" rx="2.6" fill="#000" fill-opacity="1.0" filter="url(#f25)"/>
<rect x="1817.9" y="1856.4" width="75.0" height="16.0" rx="8.0" fill="#000" fill-opacity="0.55" filter="url(#f60)"/>
<rect x="1821.7" y="1860.2" width="67.4" height="8.4" rx="4.2" fill="#000" fill-opacity="1.0" filter="url(#f35)"/>
<rect x="1824.9" y="1860.4" width="61.0" height="8.0" rx="4.0" fill="#000" fill-opacity="0.55" filter="url(#f60)"/>
<rect x="1826.6" y="1862.1" width="57.7" height="4.7" rx="2.3" fill="#000" fill-opacity="1.0" filter="url(#f20)"/>
<rect x="1808.0" y="1861.0" width="18.0" height="6.0" rx="3.0" fill="#000" fill-opacity="0.28" filter="url(#f60)"/>
<rect x="1809.1" y="1862.1" width="15.7" height="3.7" rx="1.9" fill="#000" fill-opacity="0.5" filter="url(#f20)"/>
</g>
<rect x="1739.1" y="1834.4" width="163.9" height="61.3" fill="none" stroke="#000" stroke-width="3.3"/>
</svg>
</body>
</html>
